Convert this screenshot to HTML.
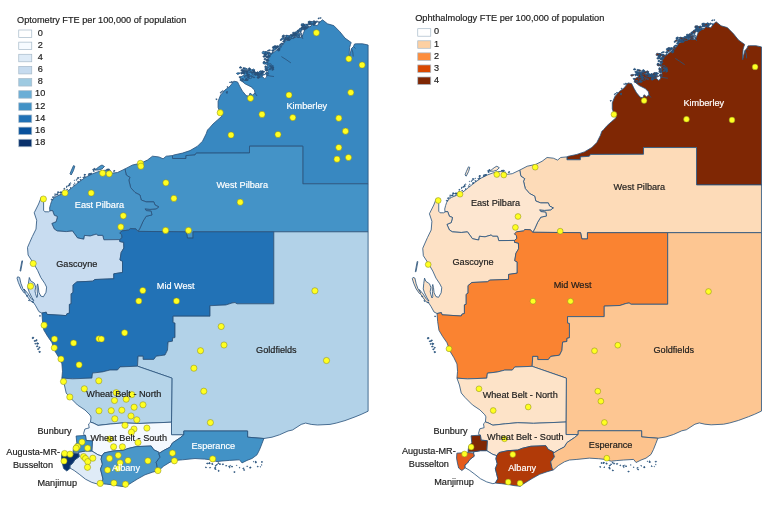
<!DOCTYPE html>
<html lang="en"><head><meta charset="utf-8"><title>Optometry and Ophthalmology FTE per 100,000 of population</title>
<style>
html,body{margin:0;padding:0;background:#fff}
text{stroke-width:0.18px;paint-order:stroke}
svg{display:block;font-family:"Liberation Sans",Arial,sans-serif;font-size:9.13px}
.reg polygon,.reg polyline{stroke:#28527c;stroke-width:0.82;stroke-linejoin:round}
.dots circle{fill:#ffff22;stroke:#86861a;stroke-width:0.5}
</style></head>
<body>
<svg width="768" height="506" viewBox="0 0 768 506">
<rect width="768" height="506" fill="#ffffff"/>
<g class="reg">
<polygon points="368.1,45.0 362.5,43.8 356.2,43.8 354.5,44.0 353.5,46.5 351.5,48.5 350.3,53.0 349.2,58.0 349.3,52.0 349.6,47.5 350.5,44.5 351.2,42.5 345.0,38.1 340.0,31.9 333.8,25.6 327.5,23.8 322.5,19.8 319.5,22.3 317.2,25.8 315.0,25.0 312.7,24.3 309.5,27.4 307.2,26.8 304.8,29.8 303.2,33.8 301.6,37.7 297.7,36.9 293.7,37.7 289.8,39.3 285.8,40.9 284.6,41.5 283.0,44.7 278.3,48.7 273.5,52.6 268.8,55.0 268.0,60.6 267.2,66.1 268.0,71.6 266.4,77.2 264.8,78.7 260.1,74.8 253.8,72.4 248.2,71.6 243.5,70.8 244.3,74.8 240.0,77.5 241.2,80.6 245.0,83.8 251.2,86.9 254.4,90.0 255.0,93.1 252.5,95.0 250.0,93.1 248.8,96.2 246.2,95.6 242.5,91.2 240.0,86.9 237.5,81.9 233.8,81.2 230.0,86.2 225.0,90.0 220.6,95.0 218.1,101.2 218.1,107.5 220.0,112.5 221.9,116.2 217.5,120.0 213.0,124.0 209.5,128.0 207.5,130.0 206.2,133.8 202.5,141.2 197.5,146.2 190.0,150.6 182.5,153.1 173.8,155.0 172.5,155.6 172.5,158.5 186.0,158.5 186.0,155.6 195.0,155.0 196.2,153.1 249.5,153.0 249.5,146.2 302.8,146.2 302.8,183.8 368.1,183.8" fill="#3888c1"/>
<polygon points="172.5,155.6 166.2,156.2 163.1,158.8 158.8,156.9 152.5,156.2 147.5,160.0 141.2,163.1 132.5,165.0 125.0,168.9 126.2,175.0 130.0,177.5 128.8,180.0 130.6,187.5 135.0,192.5 140.0,195.0 141.2,200.0 146.2,201.9 153.8,201.9 155.0,205.0 158.8,206.9 156.2,208.8 150.0,209.4 145.0,208.8 146.2,210.6 151.2,211.2 151.9,215.0 146.2,216.2 143.1,221.2 140.0,228.1 138.1,231.4 186.2,231.8 187.5,238.1 193.1,238.1 193.1,231.8 273.8,231.8 368.1,231.8 368.1,183.8 302.8,183.8 302.8,146.2 249.5,146.2 249.5,153.0 196.2,153.1 195.0,155.0 186.0,155.6 186.0,158.5 172.5,158.5 172.5,155.6" fill="#4493c7"/>
<polygon points="125.0,168.9 117.5,172.5 112.5,173.1 107.5,170.0 102.5,170.6 97.5,171.9 92.5,173.8 86.2,176.9 80.0,181.2 73.8,186.2 67.5,191.2 61.2,194.4 56.5,196.3 53.6,198.2 51.5,201.5 50.5,204.5 49.6,208.0 49.9,210.9 52.5,210.5 54.3,215.3 57.4,216.5 56.2,221.6 51.8,223.5 54.3,229.1 57.4,231.0 66.2,231.6 72.5,231.0 77.5,237.9 83.8,239.2 84.5,235.4 90.1,236.0 96.4,234.1 97.6,235.4 102.7,235.4 103.9,239.8 119.8,239.6 122.1,237.6 121.7,234.8 119.8,232.9 122.1,230.9 128.7,230.1 130.3,228.6 135.9,228.9 137.4,230.9 138.1,231.4 140.0,228.1 143.1,221.2 146.2,216.2 151.9,215.0 151.2,211.2 146.2,210.6 145.0,208.8 150.0,209.4 156.2,208.8 158.8,206.9 155.0,205.0 153.8,201.9 146.2,201.9 141.2,200.0 140.0,195.0 135.0,192.5 130.6,187.5 128.8,180.0 130.0,177.5 126.2,175.0 125.0,168.9" fill="#4895c8"/>
<polygon points="49.9,210.9 48.6,211.8 44.9,211.8 43.6,210.3 43.6,202.7 41.1,197.7 38.6,204.0 34.2,212.8 36.7,220.3 36.0,229.1 32.3,236.6 29.8,242.2 27.5,247.5 28.1,255.0 33.1,262.7 37.6,270.4 40.8,277.5 44.7,283.3 46.6,287.1 46.0,292.3 43.4,296.8 40.8,296.1 38.9,292.3 38.3,287.1 37.6,283.9 37.0,286.0 37.2,291.0 37.6,296.1 36.8,297.5 35.5,293.6 35.0,291.0 35.7,287.1 34.4,283.3 30.6,280.7 29.3,277.5 28.5,283.0 28.0,288.4 29.3,292.3 31.8,297.4 33.8,300.6 31.2,298.7 28.0,293.6 24.1,289.0 24.8,292.9 28.0,297.4 31.0,301.5 33.1,301.9 35.7,305.8 38.9,311.6 41.9,313.1 46.2,312.2 46.9,314.4 66.2,315.6 66.9,313.8 69.4,313.1 69.4,304.4 71.2,303.8 71.2,293.8 73.1,292.5 73.1,285.0 76.9,281.9 92.5,281.2 95.0,279.5 113.8,278.8 113.8,273.8 122.5,272.5 122.5,261.2 120.0,260.0 121.2,252.5 123.9,248.0 123.7,242.3 119.8,241.5 119.8,239.6 103.9,239.8 102.7,235.4 97.6,235.4 96.4,234.1 90.1,236.0 84.5,235.4 83.8,239.2 77.5,237.9 72.5,231.0 66.2,231.6 57.4,231.0 54.3,229.1 51.8,223.5 56.2,221.6 57.4,216.5 54.3,215.3 52.5,210.5 49.9,210.9" fill="#c8dcf0"/>
<polygon points="119.8,232.9 122.1,230.9 128.7,230.1 130.3,228.6 135.9,228.9 137.4,230.9 138.1,231.4 186.2,231.8 187.5,238.1 193.1,238.1 193.1,231.8 273.8,231.8 273.8,303.8 237.0,303.8 235.0,302.5 232.0,303.0 225.8,305.0 212.0,305.6 210.0,305.6 210.0,316.2 173.1,316.2 173.1,322.5 175.0,323.0 175.0,337.5 172.5,338.1 172.5,341.2 168.1,341.9 167.5,350.0 165.0,355.0 156.2,356.2 153.8,359.4 143.1,359.4 143.1,356.2 138.1,356.2 137.5,366.2 120.0,366.9 117.5,370.0 110.0,370.0 102.5,371.9 92.5,373.1 91.9,378.1 72.5,378.8 61.9,378.1 62.5,371.2 61.9,363.8 58.8,357.5 55.0,351.2 51.9,342.5 47.5,336.2 43.8,330.0 42.5,321.2 41.9,313.1 46.2,312.2 46.9,314.4 66.2,315.6 66.9,313.8 69.4,313.1 69.4,304.4 71.2,303.8 71.2,293.8 73.1,292.5 73.1,285.0 76.9,281.9 92.5,281.2 95.0,279.5 113.8,278.8 113.8,273.8 122.5,272.5 122.5,261.2 120.0,260.0 121.2,252.5 123.9,248.0 123.7,242.3 119.8,241.5 119.8,239.6 122.1,237.6 121.7,234.8 119.8,232.9" fill="#2272b6"/>
<polygon points="273.8,231.8 368.1,231.8 368.1,411.2 361.2,414.4 355.0,416.9 345.0,420.6 336.2,423.1 330.0,424.4 317.5,425.0 311.2,424.4 305.6,423.1 301.2,424.4 292.5,430.0 288.0,431.0 279.5,434.8 272.0,437.2 263.9,438.5 247.6,437.2 247.6,431.0 183.8,431.0 183.8,434.8 171.5,434.8 171.5,422.2 171.9,378.1 137.5,366.2 138.1,356.2 143.1,356.2 143.1,359.4 153.8,359.4 156.2,356.2 165.0,355.0 167.5,350.0 168.1,341.9 172.5,341.2 172.5,338.1 175.0,337.5 175.0,323.0 173.1,322.5 173.1,316.2 210.0,316.2 210.0,305.6 212.0,305.6 225.8,305.0 232.0,303.0 235.0,302.5 237.0,303.8 273.8,303.8 273.8,231.8" fill="#b2d2e8"/>
<polygon points="61.9,378.1 64.4,385.0 66.2,393.0 70.0,397.5 77.5,405.0 85.0,410.0 90.0,415.0 91.0,417.0 90.5,422.2 93.0,422.9 98.0,425.4 110.5,424.0 123.0,422.9 138.8,423.5 171.5,422.2 171.9,378.1 137.5,366.2 120.0,366.9 117.5,370.0 110.0,370.0 102.5,371.9 92.5,373.1 91.9,378.1 72.5,378.8 61.9,378.1" fill="#b5d4e9"/>
<polygon points="90.5,422.2 93.0,422.9 98.0,425.4 110.5,424.0 123.0,422.9 138.8,423.5 171.5,422.2 171.5,434.8 183.8,434.8 180.0,437.9 172.5,442.9 170.0,447.2 163.8,450.4 158.8,453.5 158.8,452.2 153.8,449.8 151.2,446.0 136.2,446.6 128.0,448.5 123.0,450.4 113.0,451.0 104.2,452.9 101.8,456.0 98.0,454.8 91.8,451.0 92.4,441.0 86.1,440.4 85.5,435.4 84.2,435.4 83.6,433.5 84.9,429.0 89.2,427.9 88.6,424.0 90.5,422.2" fill="#f4f9fe"/>
<polygon points="78.6,452.2 85.5,451.0 91.8,451.0 98.0,454.8 101.8,456.0 101.1,459.2 102.4,464.2 100.5,469.2 101.8,474.2 103.0,479.2 100.5,483.6 98.0,484.2 91.8,482.4 85.5,479.2 79.2,474.2 74.2,470.5 69.9,468.0 69.9,465.4 72.4,463.5 74.9,459.8 79.2,456.6 78.6,453.5" fill="#dfebf7"/>
<polygon points="101.8,456.0 104.2,452.9 113.0,451.0 123.0,450.4 128.0,448.5 136.2,446.6 151.2,446.0 153.8,449.8 158.8,452.2 158.8,453.5 160.0,457.2 156.2,462.2 157.5,468.5 158.8,470.4 152.5,472.2 145.0,474.8 137.5,479.0 133.0,481.8 128.0,484.9 125.5,486.8 119.2,486.1 113.0,484.9 106.8,484.2 100.5,483.6 103.0,479.2 101.8,474.2 100.5,469.2 102.4,464.2 101.1,459.2 101.8,456.0" fill="#4a97c9"/>
<polygon points="183.8,434.8 183.8,431.0 247.6,431.0 247.6,437.2 263.9,438.5 262.0,443.5 259.5,449.8 257.0,454.8 252.0,458.5 247.0,460.4 242.0,462.9 239.5,459.8 229.5,460.4 222.0,461.0 217.0,461.6 210.8,459.8 204.5,459.1 195.0,458.5 182.5,459.8 175.0,460.4 170.0,462.2 163.8,466.0 158.8,470.4 157.5,468.5 156.2,462.2 160.0,457.2 158.8,453.5 163.8,450.4 170.0,447.2 172.5,442.9 180.0,437.9 183.8,434.8" fill="#4292c6"/>
<polygon points="76.1,436.0 85.5,435.4 86.1,440.4 92.4,441.0 91.8,451.0 85.5,451.0 78.6,452.2 73.0,452.2 73.6,447.2 76.8,442.9" fill="#3f8fc5"/>
<polygon points="61.8,453.5 73.0,452.9 78.6,453.5 79.2,456.6 74.9,459.8 72.4,463.5 69.9,465.4 69.9,468.5 66.8,471.0 63.6,468.5 62.4,463.5 61.5,458.5" fill="#08306b"/>
<polygon points="17.7,276.8 19.6,277.5 20.9,283.3 22.8,288.4 25.4,292.3 24.1,292.9 20.9,288.4 18.4,282.6 17.0,278.1" fill="#c8dcf0"/>
<polygon points="21.9,260.8 22.6,260.9 20.7,271.1 20.0,271.0" fill="#c8dcf0"/>
<polygon points="70.0,173.8 71.5,170.0 73.5,165.6 74.8,166.2 73.5,170.5 71.2,175.0" fill="#4895c8"/>
<polygon points="95.0,170.0 98.0,167.5 100.0,166.0 102.0,165.0 104.5,166.5 102.0,169.0 98.5,170.0" fill="#4895c8"/>
<polygon points="226.0,92.0 227.5,91.5 227.0,93.5" fill="#28527c"/>
<polygon points="320.1,17.9 320.6,17.7 321.1,17.7 321.1,18.1 320.9,18.4 320.4,18.2" fill="#28527c"/>
<polygon points="318.9,18.8 318.0,18.7 318.1,18.2 318.7,17.9 319.5,17.9 319.2,18.4" fill="#28527c"/>
<polygon points="319.3,21.7 320.0,22.0 319.6,22.6 318.7,22.6 318.1,22.1 318.7,21.7" fill="#28527c"/>
<polygon points="316.4,22.4 315.8,21.8 316.3,21.2 317.3,20.9 318.0,21.6 317.3,22.1" fill="#28527c"/>
<polygon points="314.6,23.6 314.2,22.6 314.2,21.8 315.4,21.3 316.0,22.2 316.0,23.0" fill="#28527c"/>
<polygon points="315.1,22.7 315.7,23.4 314.7,24.0 313.5,23.8 313.3,23.0 314.0,22.2" fill="#28527c"/>
<polygon points="312.8,23.4 314.6,23.4 315.0,24.3 314.7,25.1 313.4,25.4 313.1,24.5" fill="#28527c"/>
<polygon points="313.4,23.9 313.8,24.1 313.8,24.4 313.2,24.7 312.9,24.3 312.8,23.9" fill="#28527c"/>
<polygon points="309.5,23.3 308.5,22.7 308.2,21.5 310.1,21.0 310.7,22.1 310.6,22.9" fill="#28527c"/>
<polygon points="310.5,24.5 309.6,24.3 309.7,23.6 310.7,23.1 312.0,23.5 311.7,24.5" fill="#28527c"/>
<polygon points="309.5,24.0 309.6,24.6 308.9,24.9 308.4,24.6 308.3,24.2 308.8,24.1" fill="#28527c"/>
<polygon points="310.3,26.7 309.7,26.6 309.5,26.3 309.7,26.0 310.2,26.0 310.6,26.3" fill="#28527c"/>
<polygon points="307.0,25.8 306.4,25.6 306.5,25.2 307.0,24.8 307.8,25.1 307.6,25.6" fill="#28527c"/>
<polygon points="307.8,27.5 307.3,26.9 307.4,26.5 308.0,25.8 308.8,26.4 308.5,27.0" fill="#28527c"/>
<polygon points="307.1,24.4 307.2,25.6 306.4,26.3 305.2,26.0 304.0,25.1 305.4,24.3" fill="#3888c1"/>
<polygon points="307.4,27.4 306.7,28.5 304.9,28.7 303.9,27.7 305.0,26.9 306.2,26.6" fill="#3888c1"/>
<polygon points="305.2,29.2 304.3,28.9 304.6,28.2 305.4,27.7 306.4,28.2 306.3,29.0" fill="#28527c"/>
<polygon points="304.4,30.1 303.5,30.0 303.2,29.3 303.9,29.0 304.8,29.1 305.1,29.7" fill="#28527c"/>
<polygon points="301.3,28.1 302.2,28.7 302.8,29.6 301.3,29.8 299.8,29.6 299.6,28.4" fill="#3888c1"/>
<polygon points="301.2,30.4 300.2,30.4 299.0,29.8 299.9,28.8 301.2,29.3 302.4,29.8" fill="#3888c1"/>
<polygon points="302.1,34.1 301.5,34.5 300.7,34.4 300.2,34.0 300.9,33.6 301.7,33.5" fill="#28527c"/>
<polygon points="301.5,36.7 300.9,36.3 300.7,35.8 301.4,35.6 302.4,35.6 302.1,36.3" fill="#28527c"/>
<polygon points="299.1,34.2 299.1,34.9 298.2,35.3 297.7,34.8 297.4,34.2 298.2,34.1" fill="#28527c"/>
<polygon points="298.7,36.0 299.5,36.3 299.8,37.0 299.0,37.5 297.8,37.3 298.1,36.6" fill="#28527c"/>
<polygon points="296.6,36.4 297.3,35.4 299.1,35.3 299.4,36.4 298.7,37.3 297.3,37.2" fill="#3888c1"/>
<polygon points="294.2,36.0 294.9,35.2 296.3,35.0 297.2,35.8 296.3,36.4 295.3,36.6" fill="#3888c1"/>
<polygon points="295.2,37.3 294.5,37.5 293.5,37.5 293.4,36.7 294.4,36.1 295.1,36.8" fill="#28527c"/>
<polygon points="293.6,37.4 293.8,38.6 292.0,38.5 291.0,37.8 291.1,36.6 293.0,36.4" fill="#3888c1"/>
<polygon points="290.9,37.6 289.9,37.6 290.1,37.0 290.3,36.5 291.2,36.6 291.2,37.1" fill="#28527c"/>
<polygon points="289.8,37.7 289.6,38.2 288.9,38.0 288.6,37.8 288.8,37.5 289.4,37.2" fill="#28527c"/>
<polygon points="289.2,37.5 289.8,38.2 289.8,39.4 288.0,39.3 286.9,38.4 288.1,37.7" fill="#3888c1"/>
<polygon points="287.2,38.9 287.2,39.4 286.5,39.4 285.8,39.3 286.2,38.9 286.7,38.5" fill="#28527c"/>
<polygon points="285.2,39.8 283.9,39.5 284.4,38.5 285.5,38.3 286.4,38.7 286.1,39.4" fill="#28527c"/>
<polygon points="284.4,41.2 283.8,40.5 283.9,39.7 285.0,39.8 285.8,40.1 285.3,40.7" fill="#28527c"/>
<polygon points="284.5,41.4 284.9,42.1 283.7,42.2 282.9,41.9 282.8,41.0 284.0,40.9" fill="#28527c"/>
<polygon points="281.3,39.3 281.8,39.9 281.2,40.4 280.3,40.4 280.1,39.9 280.4,39.6" fill="#28527c"/>
<polygon points="283.4,44.1 282.6,44.4 281.8,44.0 282.0,43.6 282.6,43.4 283.1,43.6" fill="#28527c"/>
<polygon points="283.0,43.5 282.4,44.1 281.6,44.1 280.7,43.9 281.3,43.3 282.0,43.2" fill="#28527c"/>
<polygon points="280.9,45.3 280.2,44.9 279.7,44.4 280.4,44.1 281.3,44.0 281.3,44.6" fill="#28527c"/>
<polygon points="278.9,45.8 279.9,45.1 281.2,45.2 281.8,46.1 280.7,46.6 279.6,46.5" fill="#3888c1"/>
<polygon points="277.3,46.2 277.6,46.6 277.3,47.1 276.5,47.1 276.5,46.6 276.6,46.3" fill="#28527c"/>
<polygon points="273.6,46.2 275.3,45.7 276.7,46.3 276.3,47.2 275.3,47.4 274.4,47.2" fill="#3888c1"/>
<polygon points="274.0,46.3 275.3,46.0 276.0,46.7 275.4,47.2 274.5,47.8 273.6,47.1" fill="#28527c"/>
<polygon points="274.1,48.4 274.5,48.6 274.6,48.9 274.2,49.3 273.8,48.9 273.5,48.5" fill="#28527c"/>
<polygon points="273.1,49.9 274.3,50.5 273.7,51.2 272.9,51.5 272.0,51.1 271.7,50.2" fill="#28527c"/>
<polygon points="272.5,53.1 271.9,52.8 272.0,52.3 272.6,52.3 273.1,52.5 273.1,52.9" fill="#28527c"/>
<polygon points="270.6,50.2 269.9,50.6 269.3,50.8 268.6,50.4 269.0,49.8 269.9,49.9" fill="#28527c"/>
<polygon points="267.6,50.6 268.1,50.2 269.0,50.4 268.6,50.9 268.1,51.4 267.4,51.0" fill="#28527c"/>
<polygon points="266.8,52.4 266.6,53.0 265.5,52.9 265.3,52.2 265.9,51.8 266.8,51.8" fill="#28527c"/>
<polygon points="268.7,56.2 270.1,56.8 269.0,57.7 267.3,57.8 267.1,56.7 267.7,56.0" fill="#3888c1"/>
<polygon points="266.2,56.9 266.4,56.5 266.9,56.3 267.9,56.4 267.5,57.0 266.8,57.6" fill="#28527c"/>
<polygon points="266.3,57.8 266.1,57.1 266.8,56.7 267.7,56.9 268.1,57.5 267.3,58.0" fill="#28527c"/>
<polygon points="266.2,60.3 266.7,59.3 268.0,59.2 268.6,59.8 269.1,60.8 267.6,60.6" fill="#3888c1"/>
<polygon points="268.4,60.1 268.2,61.0 266.9,60.9 265.9,60.4 266.5,59.6 267.6,59.6" fill="#28527c"/>
<polygon points="265.4,59.9 264.0,59.6 264.2,58.7 265.0,58.4 265.8,58.6 265.9,59.1" fill="#28527c"/>
<polygon points="266.1,62.0 267.0,61.6 267.8,62.0 267.8,62.5 267.2,62.9 266.5,62.6" fill="#28527c"/>
<polygon points="268.0,64.0 266.4,64.4 264.9,63.6 266.0,62.7 267.2,62.4 268.1,63.0" fill="#3888c1"/>
<polygon points="265.1,61.8 265.3,62.4 264.9,63.4 263.1,63.2 263.1,62.0 264.0,61.2" fill="#28527c"/>
<polygon points="265.8,62.4 265.7,63.5 264.9,64.1 263.9,64.0 263.1,63.3 263.9,62.4" fill="#3888c1"/>
<polygon points="264.9,66.5 265.3,65.8 266.2,66.3 266.9,67.0 265.8,67.4 264.9,67.1" fill="#28527c"/>
<polygon points="266.8,68.2 265.9,68.7 264.8,68.2 265.2,67.3 266.3,67.2 267.4,67.5" fill="#3888c1"/>
<polygon points="265.5,68.5 267.4,68.6 268.1,69.5 267.6,70.3 266.0,71.0 265.0,69.8" fill="#3888c1"/>
<polygon points="265.9,70.6 265.6,69.8 266.9,69.1 267.7,70.0 267.5,70.6 266.8,71.0" fill="#28527c"/>
<polygon points="266.9,72.0 267.9,72.5 268.7,73.5 267.1,73.8 265.5,73.6 266.0,72.6" fill="#3888c1"/>
<polygon points="265.3,74.0 265.8,73.2 267.2,73.1 268.2,73.9 267.6,75.2 265.9,74.6" fill="#3888c1"/>
<polygon points="264.5,72.0 264.2,72.3 263.3,72.3 263.2,71.7 263.9,71.3 264.8,71.4" fill="#28527c"/>
<polygon points="264.8,74.6 263.7,75.1 262.5,75.0 262.2,74.2 263.0,73.7 263.9,73.9" fill="#3888c1"/>
<polygon points="262.1,75.1 262.0,75.5 261.4,75.8 260.8,75.3 261.2,74.9 261.8,74.9" fill="#28527c"/>
<polygon points="260.2,75.1 260.4,74.5 260.6,74.1 261.5,74.1 261.7,74.7 261.0,74.9" fill="#28527c"/>
<polygon points="260.1,73.3 260.8,73.8 260.8,74.3 260.2,74.8 259.4,74.4 259.6,73.8" fill="#28527c"/>
<polygon points="261.1,74.9 261.6,75.2 261.7,75.7 261.1,75.7 260.7,75.6 260.6,75.2" fill="#28527c"/>
<polygon points="258.5,72.9 258.9,73.7 257.7,74.1 256.6,73.6 256.7,72.7 257.9,72.4" fill="#28527c"/>
<polygon points="257.8,73.3 256.9,74.1 255.9,73.3 256.1,72.7 256.8,72.4 258.1,72.4" fill="#28527c"/>
<polygon points="253.3,71.1 252.4,70.6 252.1,69.7 253.6,69.0 254.8,69.9 254.4,70.8" fill="#3888c1"/>
<polygon points="254.4,70.1 254.5,71.0 254.2,72.0 252.9,71.6 252.1,70.9 253.0,70.2" fill="#28527c"/>
<polygon points="254.7,72.7 253.7,72.6 253.4,72.1 253.6,71.7 254.6,71.4 254.9,72.0" fill="#28527c"/>
<polygon points="252.5,71.0 251.0,71.7 249.3,70.9 249.5,69.5 251.3,69.7 252.5,70.0" fill="#3888c1"/>
<polygon points="250.5,68.6 250.8,69.5 249.5,69.7 248.7,69.2 248.4,68.3 249.7,67.8" fill="#28527c"/>
<polygon points="249.0,70.5 248.7,70.1 249.1,69.8 249.9,69.8 250.2,70.4 249.5,70.6" fill="#28527c"/>
<polygon points="248.1,70.2 247.4,70.0 247.8,69.5 248.5,69.6 248.8,69.8 248.7,70.2" fill="#28527c"/>
<polygon points="248.0,70.9 248.7,71.0 248.9,71.4 248.6,71.9 247.9,71.6 247.5,71.2" fill="#28527c"/>
<polygon points="244.4,69.4 243.4,68.5 244.8,67.9 245.9,68.2 247.4,69.0 245.8,69.7" fill="#3888c1"/>
<polygon points="244.3,68.8 243.5,69.1 242.8,68.5 243.3,67.6 244.3,68.0 245.2,68.4" fill="#28527c"/>
<polygon points="243.7,70.6 244.6,70.3 245.4,70.2 245.9,70.7 245.3,71.4 244.5,71.0" fill="#28527c"/>
<polygon points="242.0,67.8 240.8,68.1 239.6,68.1 239.5,67.2 240.4,66.6 241.2,67.1" fill="#28527c"/>
<polygon points="243.2,69.4 243.8,70.0 243.3,70.8 241.9,70.9 241.3,70.1 242.1,69.5" fill="#28527c"/>
<polygon points="240.7,70.0 241.3,69.9 242.0,69.8 241.8,70.3 241.5,70.6 240.9,70.4" fill="#28527c"/>
<polygon points="242.0,73.2 242.2,72.4 243.2,72.0 243.8,72.6 244.2,73.3 243.1,73.6" fill="#28527c"/>
<polygon points="241.8,73.5 240.9,73.3 240.6,72.9 240.9,72.3 241.8,72.5 242.4,73.0" fill="#28527c"/>
<polygon points="241.5,73.1 242.1,73.4 242.0,73.8 241.6,74.1 241.1,73.9 240.8,73.4" fill="#28527c"/>
<polygon points="238.6,72.7 240.1,73.1 239.0,74.0 237.5,74.4 236.4,73.4 237.6,72.8" fill="#3888c1"/>
<polygon points="239.8,76.7 240.9,76.7 240.4,77.4 239.7,77.9 239.2,77.3 239.0,76.8" fill="#28527c"/>
<polygon points="260.6,72.6 261.1,72.3 261.7,72.3 262.0,72.6 262.0,73.4 260.9,73.2" fill="#28527c"/>
<polygon points="262.0,73.0 260.6,73.4 259.7,72.7 259.5,71.6 261.2,71.4 262.3,72.1" fill="#3888c1"/>
<polygon points="259.6,71.2 261.2,70.7 261.9,71.8 262.2,73.1 260.2,73.1 259.3,72.2" fill="#3888c1"/>
<polygon points="258.3,73.8 259.1,73.8 258.9,74.3 258.3,74.7 257.4,74.5 257.5,73.9" fill="#28527c"/>
<polygon points="256.7,73.4 256.5,73.7 255.9,73.6 255.7,73.2 256.0,72.8 256.6,73.1" fill="#28527c"/>
<polygon points="248.1,75.5 247.8,75.7 247.3,75.8 247.0,75.5 247.2,75.1 247.9,75.1" fill="#28527c"/>
<polygon points="248.1,76.0 246.8,75.9 246.3,75.4 246.6,74.9 247.5,74.5 248.5,75.1" fill="#28527c"/>
<polygon points="259.6,73.9 259.1,74.4 258.2,74.3 257.7,73.8 258.3,73.4 259.3,73.2" fill="#28527c"/>
<polygon points="259.2,73.2 258.0,73.8 256.8,73.5 256.7,72.7 257.2,71.7 258.3,72.4" fill="#28527c"/>
<polygon points="254.3,77.9 253.5,77.7 253.2,77.2 253.7,76.7 254.4,77.0 254.7,77.4" fill="#28527c"/>
<polygon points="249.4,70.4 249.9,71.4 250.4,72.5 248.6,72.8 247.6,71.9 247.7,70.8" fill="#3888c1"/>
<polygon points="252.1,73.1 251.5,73.0 251.2,72.5 252.0,72.2 252.8,72.4 252.8,73.0" fill="#28527c"/>
<polygon points="248.6,74.1 249.1,74.7 249.2,75.4 248.0,75.8 247.5,75.0 247.3,74.2" fill="#28527c"/>
<polygon points="243.3,72.2 244.2,72.6 244.0,73.2 243.4,73.7 242.7,73.2 242.7,72.8" fill="#28527c"/>
<polygon points="260.2,74.3 261.8,74.6 262.8,75.3 261.9,76.2 260.3,76.3 259.9,75.3" fill="#3888c1"/>
<polygon points="257.7,75.6 257.0,75.2 256.3,74.7 257.3,74.5 257.9,74.7 258.1,75.1" fill="#28527c"/>
<polygon points="262.1,73.6 261.9,74.1 261.0,73.9 260.7,73.4 261.3,72.9 261.9,73.2" fill="#28527c"/>
<polygon points="255.6,72.5 255.7,73.6 255.9,74.7 254.0,74.8 252.9,73.7 254.2,73.1" fill="#3888c1"/>
<polygon points="247.6,71.6 247.8,72.1 247.5,72.5 246.7,72.4 246.6,72.0 246.9,71.7" fill="#28527c"/>
<polygon points="244.6,76.6 244.4,76.2 244.6,75.8 245.2,75.7 245.9,76.1 245.4,76.6" fill="#28527c"/>
<polygon points="250.1,76.8 250.1,77.5 249.8,78.1 248.8,78.1 248.0,77.4 249.0,76.9" fill="#28527c"/>
<polygon points="257.5,74.4 258.1,74.9 257.3,75.1 256.8,75.0 256.5,74.7 256.7,74.1" fill="#28527c"/>
<polygon points="261.2,71.4 262.1,70.9 263.1,70.7 263.5,71.3 263.3,72.1 262.2,71.9" fill="#28527c"/>
<polygon points="261.6,72.6 262.3,72.8 262.8,73.2 262.1,73.5 261.2,73.6 260.9,73.0" fill="#28527c"/>
<polygon points="258.0,75.7 257.6,75.0 258.7,74.9 259.8,74.8 259.3,75.5 258.8,75.8" fill="#28527c"/>
<polygon points="247.2,77.8 247.4,76.9 248.0,76.3 249.1,76.5 249.6,77.3 248.6,78.0" fill="#28527c"/>
<polygon points="256.6,74.2 255.5,74.2 254.8,73.6 255.5,73.1 256.3,73.0 257.1,73.5" fill="#28527c"/>
<polygon points="255.2,71.7 255.4,72.3 254.8,72.7 253.6,72.7 253.3,71.8 254.4,71.6" fill="#28527c"/>
<polygon points="245.4,72.8 245.8,72.4 246.6,72.5 247.4,73.0 246.5,73.6 245.7,73.2" fill="#28527c"/>
<polygon points="263.5,71.9 263.0,72.6 261.9,72.5 261.5,72.0 261.6,71.3 262.5,71.5" fill="#28527c"/>
<polygon points="246.5,74.1 246.4,73.6 247.1,73.3 247.7,73.5 247.7,74.0 247.2,74.1" fill="#28527c"/>
<polygon points="256.2,73.4 256.4,74.3 255.2,75.0 254.0,74.4 254.1,73.6 255.0,72.8" fill="#28527c"/>
<polygon points="261.5,75.4 262.1,76.4 261.1,77.1 259.9,76.9 259.2,76.1 260.2,75.7" fill="#3888c1"/>
<polygon points="250.7,75.8 251.7,75.5 252.6,76.1 252.4,77.0 251.0,77.1 249.9,76.5" fill="#3888c1"/>
<polygon points="261.8,71.7 262.8,72.2 263.0,73.2 261.5,73.0 260.4,72.8 260.9,72.1" fill="#28527c"/>
<polygon points="259.6,77.8 258.5,78.1 257.4,77.7 257.7,76.9 258.8,76.5 260.0,76.9" fill="#28527c"/>
<polygon points="253.9,75.1 252.4,74.6 251.6,73.6 253.2,73.2 255.0,72.9 254.8,74.2" fill="#3888c1"/>
<polygon points="245.1,73.1 244.5,73.6 243.5,73.7 243.2,73.0 243.8,72.5 244.6,72.6" fill="#28527c"/>
<polygon points="258.1,78.3 257.0,77.8 257.0,77.1 257.7,76.8 258.9,76.7 259.2,77.6" fill="#28527c"/>
<polygon points="255.9,75.4 254.9,74.7 254.5,74.0 255.5,73.3 256.8,73.7 256.8,74.6" fill="#28527c"/>
<polygon points="249.2,74.4 249.8,74.8 249.2,75.2 248.5,75.2 248.3,74.8 248.5,74.4" fill="#28527c"/>
<polygon points="246.5,72.0 245.6,71.6 245.7,70.7 247.0,70.5 248.1,71.0 247.9,72.0" fill="#28527c"/>
<polygon points="252.0,77.7 250.6,78.6 248.8,78.0 249.3,77.0 249.9,76.0 251.5,76.5" fill="#3888c1"/>
<polygon points="242.6,70.7 243.8,70.7 244.4,71.3 244.0,72.1 242.5,72.5 241.9,71.4" fill="#28527c"/>
<polygon points="247.0,78.2 245.3,78.0 244.3,77.1 245.3,76.1 247.0,76.0 247.8,77.1" fill="#3888c1"/>
<polygon points="258.2,72.4 259.4,71.8 260.9,71.7 261.1,72.7 260.1,73.3 259.1,73.1" fill="#3888c1"/>
<polygon points="282.6,38.0 282.7,37.6 283.3,37.5 283.8,37.9 283.7,38.4 283.0,38.2" fill="#28527c"/>
<polygon points="288.0,37.0 289.3,37.2 289.8,37.9 289.6,38.8 288.3,38.3 287.4,37.9" fill="#28527c"/>
<polygon points="286.4,35.1 287.7,35.5 288.8,36.2 287.6,36.9 286.4,36.8 285.5,36.0" fill="#3888c1"/>
<polygon points="281.4,39.8 281.2,38.8 281.7,38.1 282.9,38.1 283.8,38.9 282.7,39.4" fill="#3888c1"/>
<polygon points="285.9,37.1 287.0,37.6 286.1,38.3 284.9,38.4 284.5,37.7 284.8,37.0" fill="#28527c"/>
<polygon points="289.2,39.3 288.6,38.6 289.0,37.7 290.6,37.7 291.5,38.6 290.3,39.1" fill="#3888c1"/>
<polygon points="288.7,39.7 287.9,40.0 287.1,39.9 286.3,39.2 287.5,38.7 288.8,38.9" fill="#28527c"/>
<polygon points="287.3,39.0 288.6,38.7 289.6,39.4 289.4,40.3 288.1,40.3 287.0,39.9" fill="#28527c"/>
<polygon points="285.9,39.3 285.2,39.5 284.7,39.0 285.3,38.5 286.0,38.7 286.6,39.1" fill="#28527c"/>
<polygon points="288.0,38.8 287.6,38.3 287.7,37.8 288.6,37.6 289.5,38.1 288.7,38.5" fill="#28527c"/>
<polygon points="286.8,35.7 287.5,36.1 287.0,36.5 286.4,36.4 285.9,36.2 286.0,35.7" fill="#28527c"/>
<polygon points="288.9,40.2 288.4,39.5 289.5,39.3 290.2,39.6 290.1,40.1 289.5,40.4" fill="#28527c"/>
<polygon points="289.2,37.2 287.4,37.2 286.6,36.8 285.9,35.8 287.5,35.6 289.1,35.9" fill="#3888c1"/>
<polygon points="283.1,35.0 284.7,35.4 284.4,36.4 283.9,37.2 282.3,37.0 282.2,35.9" fill="#28527c"/>
<polygon points="269.8,52.9 270.7,53.1 271.7,53.9 270.4,54.8 269.2,54.0 268.7,53.2" fill="#3888c1"/>
<polygon points="267.6,53.2 267.8,52.4 269.3,52.2 270.0,53.1 269.6,54.1 268.2,53.8" fill="#28527c"/>
<polygon points="268.3,53.4 269.4,53.2 270.6,53.7 270.3,54.8 268.6,55.0 267.8,54.2" fill="#3888c1"/>
<polygon points="265.0,51.4 266.5,52.1 267.2,53.0 266.2,54.2 264.2,53.7 263.9,52.5" fill="#3888c1"/>
<polygon points="264.4,55.0 264.1,53.9 265.2,52.9 267.0,53.3 266.9,54.4 265.9,54.8" fill="#3888c1"/>
<polygon points="266.0,53.2 266.1,54.1 266.3,55.0 264.7,55.1 263.8,54.3 264.6,53.5" fill="#28527c"/>
<polygon points="264.7,54.7 266.2,55.2 266.4,56.0 266.0,56.8 264.4,56.9 264.3,55.8" fill="#28527c"/>
<polygon points="268.0,55.8 268.9,55.7 269.4,56.1 269.3,56.5 268.6,56.9 267.8,56.5" fill="#28527c"/>
<polygon points="266.9,52.1 268.1,52.5 268.2,53.6 266.5,54.1 265.4,53.2 265.6,52.3" fill="#3888c1"/>
<polygon points="268.0,53.8 267.2,53.7 266.8,53.2 267.3,52.8 268.1,52.8 268.2,53.3" fill="#28527c"/>
<polygon points="264.7,57.0 263.6,57.3 263.1,56.7 263.0,56.0 263.9,55.9 264.8,56.2" fill="#28527c"/>
<polygon points="264.7,51.8 265.3,52.9 264.1,53.5 262.3,53.6 262.2,52.4 263.0,51.2" fill="#3888c1"/>
<polygon points="268.8,56.5 267.8,56.2 267.9,55.4 268.9,55.1 269.8,55.4 270.3,56.4" fill="#28527c"/>
<polygon points="270.5,54.0 271.1,54.9 269.7,55.3 268.7,54.7 267.7,53.7 269.5,53.5" fill="#3888c1"/>
<polygon points="304.1,26.3 305.6,26.2 306.0,27.1 305.9,28.4 303.7,28.4 303.6,27.1" fill="#28527c"/>
<polygon points="303.3,24.9 303.3,25.8 302.2,25.8 301.2,25.9 301.2,25.1 302.1,24.7" fill="#28527c"/>
<polygon points="307.0,23.8 307.7,24.3 307.5,24.8 306.9,25.1 306.1,24.8 306.5,24.4" fill="#28527c"/>
<polygon points="303.1,25.5 303.3,25.1 303.8,25.1 304.5,25.4 303.9,25.7 303.3,26.0" fill="#28527c"/>
<polygon points="303.4,25.9 301.5,25.3 301.1,24.0 302.8,23.7 304.1,23.8 304.0,24.7" fill="#3888c1"/>
<polygon points="305.6,28.2 305.5,27.3 306.9,27.2 308.0,27.7 307.3,28.4 306.4,28.7" fill="#28527c"/>
<polygon points="303.2,28.3 301.9,28.0 301.2,27.5 301.8,27.0 302.6,26.8 303.8,27.3" fill="#28527c"/>
<polygon points="303.1,26.0 302.9,25.1 302.8,24.2 304.0,24.6 305.1,24.9 304.4,25.7" fill="#28527c"/>
<polygon points="303.0,26.9 302.3,26.7 302.0,25.9 303.1,25.5 304.1,26.0 303.6,26.6" fill="#28527c"/>
<polygon points="303.4,27.9 304.2,27.8 303.8,28.3 303.6,28.8 303.0,28.5 303.0,28.1" fill="#28527c"/>
<polygon points="302.4,28.6 301.1,28.8 301.1,27.9 301.5,27.2 302.5,27.5 302.9,28.0" fill="#28527c"/>
<polygon points="306.3,27.6 305.9,28.0 305.2,27.7 305.3,27.2 305.8,27.0 306.6,27.1" fill="#28527c"/>
<polygon points="297.5,35.1 296.3,35.3 296.2,34.4 296.8,33.6 297.8,34.2 298.7,34.8" fill="#28527c"/>
<polygon points="294.1,34.7 293.9,33.6 295.7,33.8 296.9,34.6 295.7,35.4 294.5,35.4" fill="#3888c1"/>
<polygon points="297.4,32.8 297.5,32.3 297.8,31.8 298.5,32.0 298.8,32.5 298.1,32.7" fill="#28527c"/>
<polygon points="296.5,35.7 295.9,34.7 296.3,33.6 297.7,34.0 299.2,34.5 298.4,35.7" fill="#3888c1"/>
<polygon points="295.3,33.0 295.5,32.0 296.6,32.6 296.8,33.2 296.2,33.6 295.3,33.5" fill="#28527c"/>
<polygon points="297.7,30.3 298.2,30.4 298.7,30.8 298.1,31.1 297.4,31.0 297.1,30.5" fill="#28527c"/>
<polygon points="294.5,35.0 293.9,35.7 292.6,35.5 292.6,34.6 293.4,34.2 294.5,34.3" fill="#28527c"/>
<polygon points="294.8,34.3 293.1,34.6 292.7,33.5 292.7,32.4 294.6,32.2 295.2,33.3" fill="#28527c"/>
<polygon points="294.3,35.3 294.2,34.3 295.4,34.0 296.2,34.3 296.4,35.0 295.7,35.4" fill="#28527c"/>
<polygon points="299.7,33.3 299.9,34.4 299.8,35.4 298.1,35.8 296.8,34.7 298.2,33.9" fill="#3888c1"/>
<polygon points="294.9,33.6 295.2,33.1 296.2,33.2 296.1,33.7 295.8,34.1 294.6,34.4" fill="#28527c"/>
<polygon points="298.3,34.1 299.3,35.0 298.2,35.6 297.2,36.1 296.6,35.3 296.8,34.4" fill="#3888c1"/>
<polygon points="273.3,48.1 274.6,47.7 275.6,48.4 275.7,49.7 273.9,49.6 272.9,49.0" fill="#3888c1"/>
<polygon points="278.4,46.4 277.9,47.1 276.9,47.4 276.0,46.8 276.5,46.2 277.4,46.0" fill="#28527c"/>
<polygon points="272.9,48.0 272.4,47.6 272.3,47.0 273.4,46.6 274.1,47.3 273.8,48.0" fill="#28527c"/>
<polygon points="275.9,47.2 276.2,46.3 277.6,46.2 278.3,46.8 277.9,47.5 276.9,47.7" fill="#28527c"/>
<polygon points="277.2,48.0 276.8,48.9 275.6,48.5 274.8,47.9 275.6,47.2 276.7,47.4" fill="#28527c"/>
<polygon points="280.4,48.0 279.1,48.6 278.6,47.5 279.4,47.0 280.5,46.7 281.2,47.4" fill="#3888c1"/>
<polygon points="278.9,46.4 278.3,46.8 277.7,47.0 277.2,46.7 277.2,46.1 278.1,45.9" fill="#28527c"/>
<polygon points="278.7,49.2 279.9,49.6 279.8,50.4 278.9,51.1 277.7,50.6 277.4,49.7" fill="#28527c"/>
<polygon points="273.1,49.9 273.6,50.2 273.7,50.7 273.0,50.8 272.5,50.5 272.4,50.0" fill="#28527c"/>
<polygon points="278.1,49.2 278.1,48.5 279.2,48.5 279.9,48.9 279.8,49.5 278.8,49.6" fill="#28527c"/>
<polygon points="309.5,23.4 310.4,22.7 311.5,22.6 312.0,23.4 311.7,24.3 310.2,24.3" fill="#28527c"/>
<polygon points="310.2,23.1 310.8,23.8 309.9,24.2 309.0,24.3 308.3,23.7 309.3,23.4" fill="#28527c"/>
<polygon points="310.5,22.2 310.3,23.1 309.3,23.8 308.3,23.1 308.3,22.3 309.3,21.8" fill="#28527c"/>
<polygon points="310.4,23.0 310.0,22.0 310.8,21.3 311.8,21.6 312.4,22.2 311.8,22.8" fill="#28527c"/>
<polygon points="313.8,22.5 313.3,23.4 311.9,23.8 310.3,23.0 311.5,22.1 312.8,21.7" fill="#3888c1"/>
<polygon points="315.1,21.4 314.5,22.0 313.7,21.9 312.7,21.6 313.2,20.9 314.3,20.8" fill="#28527c"/>
<polygon points="273.4,69.8 272.5,70.0 271.9,69.4 272.5,68.9 273.3,68.9 274.1,69.3" fill="#28527c"/>
<polygon points="270.7,65.6 271.9,65.2 273.4,65.9 272.3,66.8 270.8,67.3 270.5,66.2" fill="#3888c1"/>
<polygon points="269.8,68.5 270.8,68.3 271.5,69.1 270.7,69.6 269.5,69.8 269.0,69.0" fill="#28527c"/>
<polygon points="273.5,67.8 272.7,68.3 272.3,67.6 272.5,67.1 273.2,66.9 274.0,67.2" fill="#28527c"/>
<polygon points="273.1,67.9 272.5,68.9 271.3,68.2 270.7,67.2 272.1,66.8 273.1,67.2" fill="#28527c"/>
<polygon points="268.9,64.1 270.1,63.6 271.3,64.1 270.9,64.9 270.1,66.0 268.7,65.2" fill="#3888c1"/>
<polygon points="246.8,80.3 245.3,80.3 245.4,79.2 246.8,79.0 248.2,79.2 248.1,80.3" fill="#3888c1"/>
<polygon points="240.7,80.5 242.2,79.7 243.5,79.5 244.7,80.4 243.5,81.1 242.2,81.2" fill="#3888c1"/>
<polygon points="246.3,80.6 245.2,80.4 245.3,79.6 246.2,78.6 247.2,79.5 247.6,80.4" fill="#28527c"/>
<polygon points="241.1,80.4 241.0,79.9 241.6,79.3 242.4,79.8 242.4,80.4 241.8,80.7" fill="#28527c"/>
<polygon points="242.4,78.6 242.9,78.7 243.5,78.9 242.9,79.2 242.4,79.3 241.9,79.0" fill="#28527c"/>
<polygon points="242.1,79.1 243.0,79.6 242.9,80.7 241.3,80.6 239.8,80.0 241.0,79.2" fill="#3888c1"/>
<polygon points="292.2,35.6 292.1,35.1 293.0,35.1 293.9,35.3 293.5,35.9 292.6,36.0" fill="#28527c"/>
<polygon points="290.4,35.6 290.8,36.1 290.2,36.5 289.5,36.3 289.0,35.8 289.8,35.4" fill="#28527c"/>
<polygon points="291.1,36.0 291.0,35.6 291.4,35.0 292.2,35.4 292.6,36.0 291.7,36.2" fill="#28527c"/>
<polygon points="291.0,35.4 290.3,35.1 290.6,34.5 291.5,34.4 292.5,34.7 291.9,35.4" fill="#28527c"/>
<polygon points="291.9,36.3 291.6,37.3 290.9,37.9 290.0,37.5 289.1,36.8 290.3,36.1" fill="#3888c1"/>
<polygon points="298.1,30.0 299.5,29.8 299.5,30.8 298.9,31.6 297.8,31.1 297.5,30.5" fill="#28527c"/>
<polygon points="301.5,32.1 300.9,32.6 299.9,32.4 299.6,31.7 300.3,31.1 301.2,31.5" fill="#28527c"/>
<polygon points="298.7,31.1 299.2,31.6 298.5,31.9 297.8,32.0 297.3,31.5 297.9,31.1" fill="#28527c"/>
<polygon points="296.8,32.9 295.3,32.7 295.9,31.6 297.2,31.7 298.1,32.1 297.7,32.8" fill="#3888c1"/>
<polygon points="300.2,29.1 301.7,29.2 301.4,30.3 300.2,31.1 298.5,30.5 299.1,29.4" fill="#3888c1"/>
<polygon points="231.4,81.6 232.4,81.7 232.7,82.3 232.1,82.7 231.4,82.5 230.8,82.1" fill="#28527c"/>
<polygon points="230.1,82.2 230.5,82.3 230.5,82.6 230.0,82.6 229.6,82.5 229.5,82.2" fill="#28527c"/>
<polygon points="227.7,87.4 227.2,87.2 226.9,86.9 227.3,86.6 227.8,86.8 228.0,87.1" fill="#28527c"/>
<polygon points="223.2,90.9 223.5,91.2 223.0,91.3 222.4,91.3 222.4,90.9 222.8,90.6" fill="#28527c"/>
<polygon points="221.5,91.4 221.8,91.8 221.9,92.1 221.4,92.3 221.0,92.1 221.1,91.8" fill="#28527c"/>
<polygon points="220.9,92.9 220.4,93.1 220.0,92.8 220.1,92.5 220.5,92.4 220.8,92.6" fill="#28527c"/>
<polygon points="216.9,99.5 216.3,99.6 215.9,99.3 215.9,98.9 216.4,98.9 217.2,99.0" fill="#28527c"/>
<polygon points="94.4,169.2 94.0,169.0 94.0,168.7 94.4,168.3 95.2,168.5 94.9,169.1" fill="#28527c"/>
<polygon points="94.2,170.3 93.1,170.3 92.6,169.6 93.3,169.2 94.1,169.2 94.8,169.6" fill="#28527c"/>
<polygon points="94.1,170.8 94.2,171.1 94.2,171.4 93.6,171.4 93.2,171.1 93.5,170.7" fill="#28527c"/>
<polygon points="91.2,173.3 91.5,173.0 91.8,173.2 91.9,173.5 91.5,173.8 91.2,173.5" fill="#28527c"/>
<polygon points="91.4,173.8 91.0,174.4 90.0,174.4 89.8,173.8 90.2,173.4 90.9,173.3" fill="#28527c"/>
<polygon points="88.8,173.6 89.6,173.5 89.6,174.0 89.5,174.3 88.9,174.3 88.6,174.0" fill="#28527c"/>
<polygon points="88.1,175.0 88.3,174.6 88.9,174.5 89.5,174.8 89.3,175.2 88.6,175.3" fill="#28527c"/>
<polygon points="84.6,174.6 85.1,174.5 85.6,174.6 85.5,175.0 85.2,175.1 84.6,175.1" fill="#28527c"/>
<polygon points="85.0,175.1 84.5,175.2 83.9,175.1 84.0,174.7 84.5,174.4 85.0,174.7" fill="#28527c"/>
<polygon points="84.2,176.8 84.5,176.2 85.3,176.6 85.3,177.0 84.9,177.5 84.2,177.2" fill="#28527c"/>
<polygon points="83.9,178.0 83.3,178.2 83.0,177.8 82.9,177.4 83.5,177.4 84.0,177.6" fill="#28527c"/>
<polygon points="80.6,177.3 80.3,177.5 80.0,177.6 79.8,177.4 80.0,177.2 80.4,177.0" fill="#28527c"/>
<polygon points="81.2,180.0 80.8,180.4 80.3,180.1 79.8,179.7 80.5,179.5 81.2,179.6" fill="#28527c"/>
<polygon points="78.7,177.5 79.1,178.0 78.5,178.4 77.9,178.1 77.4,177.7 78.0,177.4" fill="#28527c"/>
<polygon points="77.1,179.1 76.9,178.8 77.3,178.6 77.6,178.8 77.8,179.0 77.5,179.1" fill="#28527c"/>
<polygon points="77.8,181.4 78.5,181.4 79.0,181.8 78.7,182.5 77.6,182.3 77.5,181.8" fill="#28527c"/>
<polygon points="76.0,179.8 76.3,179.6 76.6,179.7 76.6,180.0 76.5,180.3 76.0,180.1" fill="#28527c"/>
<polygon points="74.4,180.4 74.2,180.3 74.3,180.0 74.7,180.1 74.7,180.3 74.6,180.4" fill="#28527c"/>
<polygon points="74.9,183.0 75.2,183.2 74.9,183.5 74.6,183.3 74.4,183.2 74.6,183.0" fill="#28527c"/>
<polygon points="73.4,185.1 73.7,184.7 74.1,184.7 74.3,184.9 74.4,185.3 73.9,185.3" fill="#28527c"/>
<polygon points="71.0,183.2 70.6,183.2 70.5,183.0 70.5,182.8 70.8,182.8 71.1,183.0" fill="#28527c"/>
<polygon points="69.2,183.8 69.5,183.6 69.9,183.7 69.9,184.0 69.6,184.2 69.3,184.0" fill="#28527c"/>
<polygon points="69.0,184.5 70.0,184.4 70.4,185.1 69.7,185.6 68.8,185.6 68.5,185.0" fill="#28527c"/>
<polygon points="70.4,188.3 70.2,187.9 70.4,187.6 70.9,187.6 71.1,187.8 71.0,188.1" fill="#28527c"/>
<polygon points="67.8,185.9 68.0,185.6 68.5,185.5 68.7,185.7 68.8,186.0 68.3,186.1" fill="#28527c"/>
<polygon points="67.4,186.2 67.2,186.5 66.9,186.7 66.5,186.6 66.3,186.2 67.0,186.1" fill="#28527c"/>
<polygon points="66.0,187.3 66.3,187.1 66.6,187.1 66.7,187.3 66.7,187.4 66.4,187.5" fill="#28527c"/>
<polygon points="66.8,189.3 67.3,189.2 67.5,189.5 67.6,189.8 67.1,190.0 66.8,189.7" fill="#28527c"/>
<polygon points="64.7,188.9 64.2,189.0 63.7,188.8 64.0,188.4 64.6,188.2 64.8,188.6" fill="#28527c"/>
<polygon points="63.9,189.8 64.4,189.9 64.7,190.2 64.3,190.3 63.8,190.5 63.7,190.1" fill="#28527c"/>
<polygon points="65.0,191.8 64.4,192.2 63.7,192.2 63.8,191.8 63.9,191.4 64.6,191.4" fill="#28527c"/>
<polygon points="63.8,192.1 64.3,192.1 64.1,192.4 63.8,192.5 63.4,192.4 63.5,192.1" fill="#28527c"/>
<polygon points="61.9,193.3 61.1,192.9 61.2,192.3 62.0,192.2 62.8,192.4 62.8,193.0" fill="#28527c"/>
<polygon points="61.2,192.7 60.5,193.0 59.8,192.6 60.1,191.9 61.1,191.9 62.0,192.2" fill="#28527c"/>
<polygon points="60.3,194.2 60.0,194.4 59.8,194.2 60.0,194.0 60.3,193.9 60.4,194.1" fill="#28527c"/>
<polygon points="58.6,192.8 57.8,193.1 57.6,192.5 57.7,191.7 58.8,191.9 59.3,192.4" fill="#28527c"/>
<polygon points="57.8,193.9 58.1,194.3 57.6,194.3 57.1,194.3 57.1,193.9 57.5,193.6" fill="#28527c"/>
<polygon points="57.9,194.3 57.5,194.8 56.8,195.0 56.3,194.7 56.3,194.2 57.1,194.1" fill="#28527c"/>
<polygon points="55.6,194.2 55.5,194.5 55.0,194.4 54.6,194.2 54.9,193.8 55.4,193.9" fill="#28527c"/>
<polygon points="54.4,196.0 54.8,195.7 55.3,195.6 55.6,195.9 55.3,196.2 54.8,196.3" fill="#28527c"/>
<polygon points="53.3,196.7 53.9,197.2 53.3,197.8 52.5,197.4 52.4,197.0 52.7,196.7" fill="#28527c"/>
<polygon points="52.3,199.9 51.7,200.3 51.3,199.8 51.2,199.4 51.9,199.0 52.6,199.4" fill="#28527c"/>
<polygon points="114.8,171.1 114.2,171.4 113.5,171.3 113.5,170.9 113.9,170.6 114.8,170.4" fill="#28527c"/>
<polygon points="110.6,171.4 110.0,171.4 109.4,171.2 109.8,170.8 110.4,170.6 110.8,171.0" fill="#28527c"/>
<polygon points="108.4,170.2 107.6,169.7 108.4,169.0 109.5,169.2 109.6,169.8 109.2,170.2" fill="#28527c"/>
<polygon points="106.6,169.7 106.7,169.2 107.2,169.1 107.9,169.1 107.9,169.6 107.2,169.9" fill="#28527c"/>
<polygon points="243.6,470.2 243.5,469.8 243.9,469.4 244.5,469.8 244.6,470.2 244.1,470.4" fill="#28527c"/>
<polygon points="213.1,464.0 212.8,464.5 212.0,464.3 211.5,463.9 212.0,463.5 212.6,463.6" fill="#28527c"/>
<polygon points="215.9,468.9 216.2,469.3 215.5,469.4 214.9,469.3 214.9,468.8 215.5,468.6" fill="#28527c"/>
<polygon points="260.3,466.6 260.6,466.8 260.6,467.0 260.4,467.2 260.1,467.0 260.1,466.8" fill="#28527c"/>
<polygon points="246.6,466.2 246.9,465.9 247.4,466.1 247.6,466.4 247.3,466.6 246.9,466.5" fill="#28527c"/>
<polygon points="239.9,467.4 240.0,467.7 239.5,467.9 239.2,467.7 239.2,467.5 239.5,467.4" fill="#28527c"/>
<polygon points="258.0,466.3 258.2,466.5 258.2,466.9 257.6,466.9 257.2,466.6 257.4,466.2" fill="#28527c"/>
<polygon points="256.5,462.5 256.1,463.0 255.2,462.8 255.4,462.3 255.7,462.1 256.2,462.2" fill="#28527c"/>
<polygon points="209.6,467.8 209.6,467.5 210.1,467.2 210.6,467.6 210.3,467.9 209.8,468.1" fill="#28527c"/>
<polygon points="250.7,467.8 250.1,467.8 249.6,467.5 250.0,467.2 250.5,467.1 250.9,467.4" fill="#28527c"/>
<polygon points="226.5,465.9 226.2,466.2 225.7,466.0 225.7,465.7 226.0,465.5 226.7,465.5" fill="#28527c"/>
<polygon points="209.6,463.1 209.8,463.4 209.6,463.8 208.9,463.7 208.8,463.3 209.2,463.1" fill="#28527c"/>
<polygon points="229.3,467.6 229.2,467.3 229.6,467.2 230.0,467.3 230.1,467.6 229.7,467.9" fill="#28527c"/>
<polygon points="215.0,467.5 215.7,467.5 215.7,468.0 215.2,468.2 214.5,468.3 214.5,467.8" fill="#28527c"/>
<polygon points="235.2,472.1 234.7,472.4 234.1,472.4 233.7,471.9 234.3,471.7 234.9,471.7" fill="#28527c"/>
<polygon points="255.1,461.7 255.3,461.3 255.9,461.3 256.2,461.7 255.9,462.0 255.5,461.9" fill="#28527c"/>
<polygon points="243.8,468.5 243.3,468.6 242.7,468.5 243.1,468.1 243.5,468.0 244.2,468.1" fill="#28527c"/>
<polygon points="236.6,465.1 236.9,465.2 237.0,465.4 236.9,465.6 236.6,465.6 236.4,465.4" fill="#28527c"/>
<polygon points="261.7,465.2 261.7,465.0 261.6,464.7 262.0,464.8 262.2,465.0 262.0,465.2" fill="#28527c"/>
<polygon points="218.1,470.6 218.7,470.3 219.1,470.6 219.3,470.9 218.9,471.4 218.1,471.1" fill="#28527c"/>
<polygon points="253.4,461.6 253.6,461.4 253.9,461.5 254.0,461.7 253.8,461.8 253.4,461.8" fill="#28527c"/>
<polygon points="215.2,465.7 215.5,465.4 216.2,465.5 216.2,466.0 215.7,466.3 215.1,466.1" fill="#28527c"/>
<polygon points="220.1,463.6 220.5,463.9 220.4,464.4 219.7,464.4 219.1,464.1 219.6,463.8" fill="#28527c"/>
<polygon points="229.9,466.5 229.2,466.6 228.7,466.6 228.7,466.3 229.0,465.8 229.6,466.1" fill="#28527c"/>
<polygon points="250.3,468.1 249.7,467.9 250.1,467.6 250.7,467.3 250.9,467.7 250.7,468.0" fill="#28527c"/>
<polygon points="210.1,462.9 210.1,463.4 209.4,463.4 208.7,463.3 209.0,462.7 209.6,462.8" fill="#28527c"/>
<polygon points="207.1,463.8 206.6,463.5 206.9,463.1 207.5,462.9 207.8,463.3 207.9,463.8" fill="#28527c"/>
<polygon points="223.3,464.6 222.4,464.7 222.2,464.2 222.6,463.9 223.1,463.8 223.6,464.1" fill="#28527c"/>
<polygon points="216.9,464.5 217.4,464.5 217.3,464.9 217.0,465.2 216.7,464.9 216.3,464.6" fill="#28527c"/>
<polygon points="261.2,462.0 261.6,461.6 262.3,461.6 262.5,462.1 262.1,462.6 261.5,462.3" fill="#28527c"/>
<polygon points="232.4,466.9 232.1,467.0 231.5,467.0 231.5,466.5 232.1,466.4 232.8,466.5" fill="#28527c"/>
<polygon points="206.4,467.2 206.4,467.7 205.7,467.7 205.5,467.3 205.5,467.0 206.1,466.9" fill="#28527c"/>
<polygon points="218.2,463.4 217.7,463.2 218.0,462.9 218.6,462.7 219.1,463.0 218.8,463.5" fill="#28527c"/>
<polygon points="230.5,465.6 230.6,465.4 230.9,465.5 231.1,465.7 230.9,465.8 230.6,465.8" fill="#28527c"/>
<polygon points="33.3,338.4 32.4,338.7 32.2,338.0 32.4,337.3 33.6,337.3 33.9,338.0" fill="#28527c"/>
<polygon points="35.3,341.3 34.6,341.3 34.0,341.2 34.0,340.7 34.6,340.7 35.2,340.8" fill="#28527c"/>
<polygon points="34.7,343.7 35.2,343.4 35.8,343.5 36.0,343.9 35.6,344.1 35.1,344.0" fill="#28527c"/>
<polygon points="37.7,345.9 38.1,346.5 37.3,346.6 36.5,346.8 36.5,346.2 36.9,345.7" fill="#28527c"/>
<polygon points="37.9,348.8 38.8,348.6 38.8,349.3 38.5,349.6 37.9,349.5 37.4,349.1" fill="#28527c"/>
<polygon points="39.2,352.5 39.0,351.9 38.9,351.4 39.7,351.4 40.4,351.6 40.2,352.3" fill="#28527c"/>
<polygon points="37.0,340.5 36.4,341.0 35.3,340.8 35.8,340.1 36.2,339.6 37.2,339.9" fill="#28527c"/>
<polygon points="36.9,344.2 36.6,343.5 37.0,342.7 37.9,343.2 38.9,343.5 38.0,344.1" fill="#28527c"/>
<polygon points="40.1,347.7 39.6,348.1 38.8,347.8 39.1,347.3 39.6,347.0 40.1,347.3" fill="#28527c"/>
<polygon points="40.1,316.2 39.7,316.2 39.3,315.9 39.8,315.5 40.4,315.7 40.5,316.1" fill="#28527c"/>
<polygon points="26.4,296.0 26.7,295.6 27.3,295.6 27.6,296.0 27.2,296.2 26.7,296.3" fill="#28527c"/>
<polygon points="29.3,300.2 29.3,300.5 29.3,300.9 28.8,300.7 28.6,300.5 28.7,300.1" fill="#28527c"/>
<polygon points="32.7,301.6 33.2,301.8 33.6,302.0 33.3,302.4 32.6,302.4 32.4,302.0" fill="#28527c"/>
<polyline points="281.4,56.6 286.0,59.5 290.9,62.9" fill="none"/>
<polyline points="351.5,48.5 352.8,52.0 353.2,56.5" fill="none"/>
<polyline points="353.5,46.5 355.5,48.5" fill="none"/>
<polyline points="266.2,75.0 270.0,76.0 274.0,76.5" fill="none"/>
<polyline points="268.1,67.5 271.0,66.0 273.5,68.0 272.0,71.0" fill="none"/>
<polyline points="301.3,35.5 303.0,39.0" fill="none"/>
<polyline points="255.0,93.1 257.0,96.0" fill="none"/>
<polyline points="250.5,98.3 250.0,102.0" fill="none"/>
</g>
<g class="reg" transform="translate(395.4 2.15) scale(0.9945)">
<polygon points="368.1,45.0 362.5,43.8 356.2,43.8 354.5,44.0 353.5,46.5 351.5,48.5 350.3,53.0 349.2,58.0 349.3,52.0 349.6,47.5 350.5,44.5 351.2,42.5 345.0,38.1 340.0,31.9 333.8,25.6 327.5,23.8 322.5,19.8 319.5,22.3 317.2,25.8 315.0,25.0 312.7,24.3 309.5,27.4 307.2,26.8 304.8,29.8 303.2,33.8 301.6,37.7 297.7,36.9 293.7,37.7 289.8,39.3 285.8,40.9 284.6,41.5 283.0,44.7 278.3,48.7 273.5,52.6 268.8,55.0 268.0,60.6 267.2,66.1 268.0,71.6 266.4,77.2 264.8,78.7 260.1,74.8 253.8,72.4 248.2,71.6 243.5,70.8 244.3,74.8 240.0,77.5 241.2,80.6 245.0,83.8 251.2,86.9 254.4,90.0 255.0,93.1 252.5,95.0 250.0,93.1 248.8,96.2 246.2,95.6 242.5,91.2 240.0,86.9 237.5,81.9 233.8,81.2 230.0,86.2 225.0,90.0 220.6,95.0 218.1,101.2 218.1,107.5 220.0,112.5 221.9,116.2 217.5,120.0 213.0,124.0 209.5,128.0 207.5,130.0 206.2,133.8 202.5,141.2 197.5,146.2 190.0,150.6 182.5,153.1 173.8,155.0 172.5,155.6 172.5,158.5 186.0,158.5 186.0,155.6 195.0,155.0 196.2,153.1 249.5,153.0 249.5,146.2 302.8,146.2 302.8,183.8 368.1,183.8" fill="#7f2704"/>
<polygon points="172.5,155.6 166.2,156.2 163.1,158.8 158.8,156.9 152.5,156.2 147.5,160.0 141.2,163.1 132.5,165.0 125.0,168.9 126.2,175.0 130.0,177.5 128.8,180.0 130.6,187.5 135.0,192.5 140.0,195.0 141.2,200.0 146.2,201.9 153.8,201.9 155.0,205.0 158.8,206.9 156.2,208.8 150.0,209.4 145.0,208.8 146.2,210.6 151.2,211.2 151.9,215.0 146.2,216.2 143.1,221.2 140.0,228.1 138.1,231.4 186.2,231.8 187.5,238.1 193.1,238.1 193.1,231.8 273.8,231.8 368.1,231.8 368.1,183.8 302.8,183.8 302.8,146.2 249.5,146.2 249.5,153.0 196.2,153.1 195.0,155.0 186.0,155.6 186.0,158.5 172.5,158.5 172.5,155.6" fill="#fddbb8"/>
<polygon points="125.0,168.9 117.5,172.5 112.5,173.1 107.5,170.0 102.5,170.6 97.5,171.9 92.5,173.8 86.2,176.9 80.0,181.2 73.8,186.2 67.5,191.2 61.2,194.4 56.5,196.3 53.6,198.2 51.5,201.5 50.5,204.5 49.6,208.0 49.9,210.9 52.5,210.5 54.3,215.3 57.4,216.5 56.2,221.6 51.8,223.5 54.3,229.1 57.4,231.0 66.2,231.6 72.5,231.0 77.5,237.9 83.8,239.2 84.5,235.4 90.1,236.0 96.4,234.1 97.6,235.4 102.7,235.4 103.9,239.8 119.8,239.6 122.1,237.6 121.7,234.8 119.8,232.9 122.1,230.9 128.7,230.1 130.3,228.6 135.9,228.9 137.4,230.9 138.1,231.4 140.0,228.1 143.1,221.2 146.2,216.2 151.9,215.0 151.2,211.2 146.2,210.6 145.0,208.8 150.0,209.4 156.2,208.8 158.8,206.9 155.0,205.0 153.8,201.9 146.2,201.9 141.2,200.0 140.0,195.0 135.0,192.5 130.6,187.5 128.8,180.0 130.0,177.5 126.2,175.0 125.0,168.9" fill="#fde6d0"/>
<polygon points="49.9,210.9 48.6,211.8 44.9,211.8 43.6,210.3 43.6,202.7 41.1,197.7 38.6,204.0 34.2,212.8 36.7,220.3 36.0,229.1 32.3,236.6 29.8,242.2 27.5,247.5 28.1,255.0 33.1,262.7 37.6,270.4 40.8,277.5 44.7,283.3 46.6,287.1 46.0,292.3 43.4,296.8 40.8,296.1 38.9,292.3 38.3,287.1 37.6,283.9 37.0,286.0 37.2,291.0 37.6,296.1 36.8,297.5 35.5,293.6 35.0,291.0 35.7,287.1 34.4,283.3 30.6,280.7 29.3,277.5 28.5,283.0 28.0,288.4 29.3,292.3 31.8,297.4 33.8,300.6 31.2,298.7 28.0,293.6 24.1,289.0 24.8,292.9 28.0,297.4 31.0,301.5 33.1,301.9 35.7,305.8 38.9,311.6 41.9,313.1 46.2,312.2 46.9,314.4 66.2,315.6 66.9,313.8 69.4,313.1 69.4,304.4 71.2,303.8 71.2,293.8 73.1,292.5 73.1,285.0 76.9,281.9 92.5,281.2 95.0,279.5 113.8,278.8 113.8,273.8 122.5,272.5 122.5,261.2 120.0,260.0 121.2,252.5 123.9,248.0 123.7,242.3 119.8,241.5 119.8,239.6 103.9,239.8 102.7,235.4 97.6,235.4 96.4,234.1 90.1,236.0 84.5,235.4 83.8,239.2 77.5,237.9 72.5,231.0 66.2,231.6 57.4,231.0 54.3,229.1 51.8,223.5 56.2,221.6 57.4,216.5 54.3,215.3 52.5,210.5 49.9,210.9" fill="#fde1c5"/>
<polygon points="119.8,232.9 122.1,230.9 128.7,230.1 130.3,228.6 135.9,228.9 137.4,230.9 138.1,231.4 186.2,231.8 187.5,238.1 193.1,238.1 193.1,231.8 273.8,231.8 273.8,303.8 237.0,303.8 235.0,302.5 232.0,303.0 225.8,305.0 212.0,305.6 210.0,305.6 210.0,316.2 173.1,316.2 173.1,322.5 175.0,323.0 175.0,337.5 172.5,338.1 172.5,341.2 168.1,341.9 167.5,350.0 165.0,355.0 156.2,356.2 153.8,359.4 143.1,359.4 143.1,356.2 138.1,356.2 137.5,366.2 120.0,366.9 117.5,370.0 110.0,370.0 102.5,371.9 92.5,373.1 91.9,378.1 72.5,378.8 61.9,378.1 62.5,371.2 61.9,363.8 58.8,357.5 55.0,351.2 51.9,342.5 47.5,336.2 43.8,330.0 42.5,321.2 41.9,313.1 46.2,312.2 46.9,314.4 66.2,315.6 66.9,313.8 69.4,313.1 69.4,304.4 71.2,303.8 71.2,293.8 73.1,292.5 73.1,285.0 76.9,281.9 92.5,281.2 95.0,279.5 113.8,278.8 113.8,273.8 122.5,272.5 122.5,261.2 120.0,260.0 121.2,252.5 123.9,248.0 123.7,242.3 119.8,241.5 119.8,239.6 122.1,237.6 121.7,234.8 119.8,232.9" fill="#fa8331"/>
<polygon points="273.8,231.8 368.1,231.8 368.1,411.2 361.2,414.4 355.0,416.9 345.0,420.6 336.2,423.1 330.0,424.4 317.5,425.0 311.2,424.4 305.6,423.1 301.2,424.4 292.5,430.0 288.0,431.0 279.5,434.8 272.0,437.2 263.9,438.5 247.6,437.2 247.6,431.0 183.8,431.0 183.8,434.8 171.5,434.8 171.5,422.2 171.9,378.1 137.5,366.2 138.1,356.2 143.1,356.2 143.1,359.4 153.8,359.4 156.2,356.2 165.0,355.0 167.5,350.0 168.1,341.9 172.5,341.2 172.5,338.1 175.0,337.5 175.0,323.0 173.1,322.5 173.1,316.2 210.0,316.2 210.0,305.6 212.0,305.6 225.8,305.0 232.0,303.0 235.0,302.5 237.0,303.8 273.8,303.8 273.8,231.8" fill="#fdc692"/>
<polygon points="61.9,378.1 64.4,385.0 66.2,393.0 70.0,397.5 77.5,405.0 85.0,410.0 90.0,415.0 91.0,417.0 90.5,422.2 93.0,422.9 98.0,425.4 110.5,424.0 123.0,422.9 138.8,423.5 171.5,422.2 171.9,378.1 137.5,366.2 120.0,366.9 117.5,370.0 110.0,370.0 102.5,371.9 92.5,373.1 91.9,378.1 72.5,378.8 61.9,378.1" fill="#fde3c8"/>
<polygon points="90.5,422.2 93.0,422.9 98.0,425.4 110.5,424.0 123.0,422.9 138.8,423.5 171.5,422.2 171.5,434.8 183.8,434.8 180.0,437.9 172.5,442.9 170.0,447.2 163.8,450.4 158.8,453.5 158.8,452.2 153.8,449.8 151.2,446.0 136.2,446.6 128.0,448.5 123.0,450.4 113.0,451.0 104.2,452.9 101.8,456.0 98.0,454.8 91.8,451.0 92.4,441.0 86.1,440.4 85.5,435.4 84.2,435.4 83.6,433.5 84.9,429.0 89.2,427.9 88.6,424.0 90.5,422.2" fill="#fee6cf"/>
<polygon points="78.6,452.2 85.5,451.0 91.8,451.0 98.0,454.8 101.8,456.0 101.1,459.2 102.4,464.2 100.5,469.2 101.8,474.2 103.0,479.2 100.5,483.6 98.0,484.2 91.8,482.4 85.5,479.2 79.2,474.2 74.2,470.5 69.9,468.0 69.9,465.4 72.4,463.5 74.9,459.8 79.2,456.6 78.6,453.5" fill="#ffffff"/>
<polygon points="101.8,456.0 104.2,452.9 113.0,451.0 123.0,450.4 128.0,448.5 136.2,446.6 151.2,446.0 153.8,449.8 158.8,452.2 158.8,453.5 160.0,457.2 156.2,462.2 157.5,468.5 158.8,470.4 152.5,472.2 145.0,474.8 137.5,479.0 133.0,481.8 128.0,484.9 125.5,486.8 119.2,486.1 113.0,484.9 106.8,484.2 100.5,483.6 103.0,479.2 101.8,474.2 100.5,469.2 102.4,464.2 101.1,459.2 101.8,456.0" fill="#b13a08"/>
<polygon points="183.8,434.8 183.8,431.0 247.6,431.0 247.6,437.2 263.9,438.5 262.0,443.5 259.5,449.8 257.0,454.8 252.0,458.5 247.0,460.4 242.0,462.9 239.5,459.8 229.5,460.4 222.0,461.0 217.0,461.6 210.8,459.8 204.5,459.1 195.0,458.5 182.5,459.8 175.0,460.4 170.0,462.2 163.8,466.0 158.8,470.4 157.5,468.5 156.2,462.2 160.0,457.2 158.8,453.5 163.8,450.4 170.0,447.2 172.5,442.9 180.0,437.9 183.8,434.8" fill="#fdc38d"/>
<polygon points="76.1,436.0 85.5,435.4 86.1,440.4 92.4,441.0 91.8,451.0 85.5,451.0 78.6,452.2 73.0,452.2 73.6,447.2 76.8,442.9" fill="#7f2704"/>
<polygon points="61.8,453.5 73.0,452.9 78.6,453.5 79.2,456.6 74.9,459.8 72.4,463.5 69.9,465.4 69.9,468.5 66.8,471.0 63.6,468.5 62.4,463.5 61.5,458.5" fill="#e45a1b"/>
<polygon points="17.7,276.8 19.6,277.5 20.9,283.3 22.8,288.4 25.4,292.3 24.1,292.9 20.9,288.4 18.4,282.6 17.0,278.1" fill="#fde1c5"/>
<polygon points="21.9,260.8 22.6,260.9 20.7,271.1 20.0,271.0" fill="#fde1c5"/>
<polygon points="70.0,173.8 71.5,170.0 73.5,165.6 74.8,166.2 73.5,170.5 71.2,175.0" fill="#fde6d0"/>
<polygon points="95.0,170.0 98.0,167.5 100.0,166.0 102.0,165.0 104.5,166.5 102.0,169.0 98.5,170.0" fill="#fde6d0"/>
<polygon points="226.0,92.0 227.5,91.5 227.0,93.5" fill="#28527c"/>
<polygon points="320.1,17.9 320.6,17.7 321.1,17.7 321.1,18.1 320.9,18.4 320.4,18.2" fill="#28527c"/>
<polygon points="318.9,18.8 318.0,18.7 318.1,18.2 318.7,17.9 319.5,17.9 319.2,18.4" fill="#28527c"/>
<polygon points="319.3,21.7 320.0,22.0 319.6,22.6 318.7,22.6 318.1,22.1 318.7,21.7" fill="#28527c"/>
<polygon points="316.4,22.4 315.8,21.8 316.3,21.2 317.3,20.9 318.0,21.6 317.3,22.1" fill="#28527c"/>
<polygon points="314.6,23.6 314.2,22.6 314.2,21.8 315.4,21.3 316.0,22.2 316.0,23.0" fill="#28527c"/>
<polygon points="315.1,22.7 315.7,23.4 314.7,24.0 313.5,23.8 313.3,23.0 314.0,22.2" fill="#28527c"/>
<polygon points="312.8,23.4 314.6,23.4 315.0,24.3 314.7,25.1 313.4,25.4 313.1,24.5" fill="#28527c"/>
<polygon points="313.4,23.9 313.8,24.1 313.8,24.4 313.2,24.7 312.9,24.3 312.8,23.9" fill="#28527c"/>
<polygon points="309.5,23.3 308.5,22.7 308.2,21.5 310.1,21.0 310.7,22.1 310.6,22.9" fill="#28527c"/>
<polygon points="310.5,24.5 309.6,24.3 309.7,23.6 310.7,23.1 312.0,23.5 311.7,24.5" fill="#28527c"/>
<polygon points="309.5,24.0 309.6,24.6 308.9,24.9 308.4,24.6 308.3,24.2 308.8,24.1" fill="#28527c"/>
<polygon points="310.3,26.7 309.7,26.6 309.5,26.3 309.7,26.0 310.2,26.0 310.6,26.3" fill="#28527c"/>
<polygon points="307.0,25.8 306.4,25.6 306.5,25.2 307.0,24.8 307.8,25.1 307.6,25.6" fill="#28527c"/>
<polygon points="307.8,27.5 307.3,26.9 307.4,26.5 308.0,25.8 308.8,26.4 308.5,27.0" fill="#28527c"/>
<polygon points="307.1,24.4 307.2,25.6 306.4,26.3 305.2,26.0 304.0,25.1 305.4,24.3" fill="#7f2704"/>
<polygon points="307.4,27.4 306.7,28.5 304.9,28.7 303.9,27.7 305.0,26.9 306.2,26.6" fill="#7f2704"/>
<polygon points="305.2,29.2 304.3,28.9 304.6,28.2 305.4,27.7 306.4,28.2 306.3,29.0" fill="#28527c"/>
<polygon points="304.4,30.1 303.5,30.0 303.2,29.3 303.9,29.0 304.8,29.1 305.1,29.7" fill="#28527c"/>
<polygon points="301.3,28.1 302.2,28.7 302.8,29.6 301.3,29.8 299.8,29.6 299.6,28.4" fill="#7f2704"/>
<polygon points="301.2,30.4 300.2,30.4 299.0,29.8 299.9,28.8 301.2,29.3 302.4,29.8" fill="#7f2704"/>
<polygon points="302.1,34.1 301.5,34.5 300.7,34.4 300.2,34.0 300.9,33.6 301.7,33.5" fill="#28527c"/>
<polygon points="301.5,36.7 300.9,36.3 300.7,35.8 301.4,35.6 302.4,35.6 302.1,36.3" fill="#28527c"/>
<polygon points="299.1,34.2 299.1,34.9 298.2,35.3 297.7,34.8 297.4,34.2 298.2,34.1" fill="#28527c"/>
<polygon points="298.7,36.0 299.5,36.3 299.8,37.0 299.0,37.5 297.8,37.3 298.1,36.6" fill="#28527c"/>
<polygon points="296.6,36.4 297.3,35.4 299.1,35.3 299.4,36.4 298.7,37.3 297.3,37.2" fill="#7f2704"/>
<polygon points="294.2,36.0 294.9,35.2 296.3,35.0 297.2,35.8 296.3,36.4 295.3,36.6" fill="#7f2704"/>
<polygon points="295.2,37.3 294.5,37.5 293.5,37.5 293.4,36.7 294.4,36.1 295.1,36.8" fill="#28527c"/>
<polygon points="293.6,37.4 293.8,38.6 292.0,38.5 291.0,37.8 291.1,36.6 293.0,36.4" fill="#7f2704"/>
<polygon points="290.9,37.6 289.9,37.6 290.1,37.0 290.3,36.5 291.2,36.6 291.2,37.1" fill="#28527c"/>
<polygon points="289.8,37.7 289.6,38.2 288.9,38.0 288.6,37.8 288.8,37.5 289.4,37.2" fill="#28527c"/>
<polygon points="289.2,37.5 289.8,38.2 289.8,39.4 288.0,39.3 286.9,38.4 288.1,37.7" fill="#7f2704"/>
<polygon points="287.2,38.9 287.2,39.4 286.5,39.4 285.8,39.3 286.2,38.9 286.7,38.5" fill="#28527c"/>
<polygon points="285.2,39.8 283.9,39.5 284.4,38.5 285.5,38.3 286.4,38.7 286.1,39.4" fill="#28527c"/>
<polygon points="284.4,41.2 283.8,40.5 283.9,39.7 285.0,39.8 285.8,40.1 285.3,40.7" fill="#28527c"/>
<polygon points="284.5,41.4 284.9,42.1 283.7,42.2 282.9,41.9 282.8,41.0 284.0,40.9" fill="#28527c"/>
<polygon points="281.3,39.3 281.8,39.9 281.2,40.4 280.3,40.4 280.1,39.9 280.4,39.6" fill="#28527c"/>
<polygon points="283.4,44.1 282.6,44.4 281.8,44.0 282.0,43.6 282.6,43.4 283.1,43.6" fill="#28527c"/>
<polygon points="283.0,43.5 282.4,44.1 281.6,44.1 280.7,43.9 281.3,43.3 282.0,43.2" fill="#28527c"/>
<polygon points="280.9,45.3 280.2,44.9 279.7,44.4 280.4,44.1 281.3,44.0 281.3,44.6" fill="#28527c"/>
<polygon points="278.9,45.8 279.9,45.1 281.2,45.2 281.8,46.1 280.7,46.6 279.6,46.5" fill="#7f2704"/>
<polygon points="277.3,46.2 277.6,46.6 277.3,47.1 276.5,47.1 276.5,46.6 276.6,46.3" fill="#28527c"/>
<polygon points="273.6,46.2 275.3,45.7 276.7,46.3 276.3,47.2 275.3,47.4 274.4,47.2" fill="#7f2704"/>
<polygon points="274.0,46.3 275.3,46.0 276.0,46.7 275.4,47.2 274.5,47.8 273.6,47.1" fill="#28527c"/>
<polygon points="274.1,48.4 274.5,48.6 274.6,48.9 274.2,49.3 273.8,48.9 273.5,48.5" fill="#28527c"/>
<polygon points="273.1,49.9 274.3,50.5 273.7,51.2 272.9,51.5 272.0,51.1 271.7,50.2" fill="#28527c"/>
<polygon points="272.5,53.1 271.9,52.8 272.0,52.3 272.6,52.3 273.1,52.5 273.1,52.9" fill="#28527c"/>
<polygon points="270.6,50.2 269.9,50.6 269.3,50.8 268.6,50.4 269.0,49.8 269.9,49.9" fill="#28527c"/>
<polygon points="267.6,50.6 268.1,50.2 269.0,50.4 268.6,50.9 268.1,51.4 267.4,51.0" fill="#28527c"/>
<polygon points="266.8,52.4 266.6,53.0 265.5,52.9 265.3,52.2 265.9,51.8 266.8,51.8" fill="#28527c"/>
<polygon points="268.7,56.2 270.1,56.8 269.0,57.7 267.3,57.8 267.1,56.7 267.7,56.0" fill="#7f2704"/>
<polygon points="266.2,56.9 266.4,56.5 266.9,56.3 267.9,56.4 267.5,57.0 266.8,57.6" fill="#28527c"/>
<polygon points="266.3,57.8 266.1,57.1 266.8,56.7 267.7,56.9 268.1,57.5 267.3,58.0" fill="#28527c"/>
<polygon points="266.2,60.3 266.7,59.3 268.0,59.2 268.6,59.8 269.1,60.8 267.6,60.6" fill="#7f2704"/>
<polygon points="268.4,60.1 268.2,61.0 266.9,60.9 265.9,60.4 266.5,59.6 267.6,59.6" fill="#28527c"/>
<polygon points="265.4,59.9 264.0,59.6 264.2,58.7 265.0,58.4 265.8,58.6 265.9,59.1" fill="#28527c"/>
<polygon points="266.1,62.0 267.0,61.6 267.8,62.0 267.8,62.5 267.2,62.9 266.5,62.6" fill="#28527c"/>
<polygon points="268.0,64.0 266.4,64.4 264.9,63.6 266.0,62.7 267.2,62.4 268.1,63.0" fill="#7f2704"/>
<polygon points="265.1,61.8 265.3,62.4 264.9,63.4 263.1,63.2 263.1,62.0 264.0,61.2" fill="#28527c"/>
<polygon points="265.8,62.4 265.7,63.5 264.9,64.1 263.9,64.0 263.1,63.3 263.9,62.4" fill="#7f2704"/>
<polygon points="264.9,66.5 265.3,65.8 266.2,66.3 266.9,67.0 265.8,67.4 264.9,67.1" fill="#28527c"/>
<polygon points="266.8,68.2 265.9,68.7 264.8,68.2 265.2,67.3 266.3,67.2 267.4,67.5" fill="#7f2704"/>
<polygon points="265.5,68.5 267.4,68.6 268.1,69.5 267.6,70.3 266.0,71.0 265.0,69.8" fill="#7f2704"/>
<polygon points="265.9,70.6 265.6,69.8 266.9,69.1 267.7,70.0 267.5,70.6 266.8,71.0" fill="#28527c"/>
<polygon points="266.9,72.0 267.9,72.5 268.7,73.5 267.1,73.8 265.5,73.6 266.0,72.6" fill="#7f2704"/>
<polygon points="265.3,74.0 265.8,73.2 267.2,73.1 268.2,73.9 267.6,75.2 265.9,74.6" fill="#7f2704"/>
<polygon points="264.5,72.0 264.2,72.3 263.3,72.3 263.2,71.7 263.9,71.3 264.8,71.4" fill="#28527c"/>
<polygon points="264.8,74.6 263.7,75.1 262.5,75.0 262.2,74.2 263.0,73.7 263.9,73.9" fill="#7f2704"/>
<polygon points="262.1,75.1 262.0,75.5 261.4,75.8 260.8,75.3 261.2,74.9 261.8,74.9" fill="#28527c"/>
<polygon points="260.2,75.1 260.4,74.5 260.6,74.1 261.5,74.1 261.7,74.7 261.0,74.9" fill="#28527c"/>
<polygon points="260.1,73.3 260.8,73.8 260.8,74.3 260.2,74.8 259.4,74.4 259.6,73.8" fill="#28527c"/>
<polygon points="261.1,74.9 261.6,75.2 261.7,75.7 261.1,75.7 260.7,75.6 260.6,75.2" fill="#28527c"/>
<polygon points="258.5,72.9 258.9,73.7 257.7,74.1 256.6,73.6 256.7,72.7 257.9,72.4" fill="#28527c"/>
<polygon points="257.8,73.3 256.9,74.1 255.9,73.3 256.1,72.7 256.8,72.4 258.1,72.4" fill="#28527c"/>
<polygon points="253.3,71.1 252.4,70.6 252.1,69.7 253.6,69.0 254.8,69.9 254.4,70.8" fill="#7f2704"/>
<polygon points="254.4,70.1 254.5,71.0 254.2,72.0 252.9,71.6 252.1,70.9 253.0,70.2" fill="#28527c"/>
<polygon points="254.7,72.7 253.7,72.6 253.4,72.1 253.6,71.7 254.6,71.4 254.9,72.0" fill="#28527c"/>
<polygon points="252.5,71.0 251.0,71.7 249.3,70.9 249.5,69.5 251.3,69.7 252.5,70.0" fill="#7f2704"/>
<polygon points="250.5,68.6 250.8,69.5 249.5,69.7 248.7,69.2 248.4,68.3 249.7,67.8" fill="#28527c"/>
<polygon points="249.0,70.5 248.7,70.1 249.1,69.8 249.9,69.8 250.2,70.4 249.5,70.6" fill="#28527c"/>
<polygon points="248.1,70.2 247.4,70.0 247.8,69.5 248.5,69.6 248.8,69.8 248.7,70.2" fill="#28527c"/>
<polygon points="248.0,70.9 248.7,71.0 248.9,71.4 248.6,71.9 247.9,71.6 247.5,71.2" fill="#28527c"/>
<polygon points="244.4,69.4 243.4,68.5 244.8,67.9 245.9,68.2 247.4,69.0 245.8,69.7" fill="#7f2704"/>
<polygon points="244.3,68.8 243.5,69.1 242.8,68.5 243.3,67.6 244.3,68.0 245.2,68.4" fill="#28527c"/>
<polygon points="243.7,70.6 244.6,70.3 245.4,70.2 245.9,70.7 245.3,71.4 244.5,71.0" fill="#28527c"/>
<polygon points="242.0,67.8 240.8,68.1 239.6,68.1 239.5,67.2 240.4,66.6 241.2,67.1" fill="#28527c"/>
<polygon points="243.2,69.4 243.8,70.0 243.3,70.8 241.9,70.9 241.3,70.1 242.1,69.5" fill="#28527c"/>
<polygon points="240.7,70.0 241.3,69.9 242.0,69.8 241.8,70.3 241.5,70.6 240.9,70.4" fill="#28527c"/>
<polygon points="242.0,73.2 242.2,72.4 243.2,72.0 243.8,72.6 244.2,73.3 243.1,73.6" fill="#28527c"/>
<polygon points="241.8,73.5 240.9,73.3 240.6,72.9 240.9,72.3 241.8,72.5 242.4,73.0" fill="#28527c"/>
<polygon points="241.5,73.1 242.1,73.4 242.0,73.8 241.6,74.1 241.1,73.9 240.8,73.4" fill="#28527c"/>
<polygon points="238.6,72.7 240.1,73.1 239.0,74.0 237.5,74.4 236.4,73.4 237.6,72.8" fill="#7f2704"/>
<polygon points="239.8,76.7 240.9,76.7 240.4,77.4 239.7,77.9 239.2,77.3 239.0,76.8" fill="#28527c"/>
<polygon points="260.6,72.6 261.1,72.3 261.7,72.3 262.0,72.6 262.0,73.4 260.9,73.2" fill="#28527c"/>
<polygon points="262.0,73.0 260.6,73.4 259.7,72.7 259.5,71.6 261.2,71.4 262.3,72.1" fill="#7f2704"/>
<polygon points="259.6,71.2 261.2,70.7 261.9,71.8 262.2,73.1 260.2,73.1 259.3,72.2" fill="#7f2704"/>
<polygon points="258.3,73.8 259.1,73.8 258.9,74.3 258.3,74.7 257.4,74.5 257.5,73.9" fill="#28527c"/>
<polygon points="256.7,73.4 256.5,73.7 255.9,73.6 255.7,73.2 256.0,72.8 256.6,73.1" fill="#28527c"/>
<polygon points="248.1,75.5 247.8,75.7 247.3,75.8 247.0,75.5 247.2,75.1 247.9,75.1" fill="#28527c"/>
<polygon points="248.1,76.0 246.8,75.9 246.3,75.4 246.6,74.9 247.5,74.5 248.5,75.1" fill="#28527c"/>
<polygon points="259.6,73.9 259.1,74.4 258.2,74.3 257.7,73.8 258.3,73.4 259.3,73.2" fill="#28527c"/>
<polygon points="259.2,73.2 258.0,73.8 256.8,73.5 256.7,72.7 257.2,71.7 258.3,72.4" fill="#28527c"/>
<polygon points="254.3,77.9 253.5,77.7 253.2,77.2 253.7,76.7 254.4,77.0 254.7,77.4" fill="#28527c"/>
<polygon points="249.4,70.4 249.9,71.4 250.4,72.5 248.6,72.8 247.6,71.9 247.7,70.8" fill="#7f2704"/>
<polygon points="252.1,73.1 251.5,73.0 251.2,72.5 252.0,72.2 252.8,72.4 252.8,73.0" fill="#28527c"/>
<polygon points="248.6,74.1 249.1,74.7 249.2,75.4 248.0,75.8 247.5,75.0 247.3,74.2" fill="#28527c"/>
<polygon points="243.3,72.2 244.2,72.6 244.0,73.2 243.4,73.7 242.7,73.2 242.7,72.8" fill="#28527c"/>
<polygon points="260.2,74.3 261.8,74.6 262.8,75.3 261.9,76.2 260.3,76.3 259.9,75.3" fill="#7f2704"/>
<polygon points="257.7,75.6 257.0,75.2 256.3,74.7 257.3,74.5 257.9,74.7 258.1,75.1" fill="#28527c"/>
<polygon points="262.1,73.6 261.9,74.1 261.0,73.9 260.7,73.4 261.3,72.9 261.9,73.2" fill="#28527c"/>
<polygon points="255.6,72.5 255.7,73.6 255.9,74.7 254.0,74.8 252.9,73.7 254.2,73.1" fill="#7f2704"/>
<polygon points="247.6,71.6 247.8,72.1 247.5,72.5 246.7,72.4 246.6,72.0 246.9,71.7" fill="#28527c"/>
<polygon points="244.6,76.6 244.4,76.2 244.6,75.8 245.2,75.7 245.9,76.1 245.4,76.6" fill="#28527c"/>
<polygon points="250.1,76.8 250.1,77.5 249.8,78.1 248.8,78.1 248.0,77.4 249.0,76.9" fill="#28527c"/>
<polygon points="257.5,74.4 258.1,74.9 257.3,75.1 256.8,75.0 256.5,74.7 256.7,74.1" fill="#28527c"/>
<polygon points="261.2,71.4 262.1,70.9 263.1,70.7 263.5,71.3 263.3,72.1 262.2,71.9" fill="#28527c"/>
<polygon points="261.6,72.6 262.3,72.8 262.8,73.2 262.1,73.5 261.2,73.6 260.9,73.0" fill="#28527c"/>
<polygon points="258.0,75.7 257.6,75.0 258.7,74.9 259.8,74.8 259.3,75.5 258.8,75.8" fill="#28527c"/>
<polygon points="247.2,77.8 247.4,76.9 248.0,76.3 249.1,76.5 249.6,77.3 248.6,78.0" fill="#28527c"/>
<polygon points="256.6,74.2 255.5,74.2 254.8,73.6 255.5,73.1 256.3,73.0 257.1,73.5" fill="#28527c"/>
<polygon points="255.2,71.7 255.4,72.3 254.8,72.7 253.6,72.7 253.3,71.8 254.4,71.6" fill="#28527c"/>
<polygon points="245.4,72.8 245.8,72.4 246.6,72.5 247.4,73.0 246.5,73.6 245.7,73.2" fill="#28527c"/>
<polygon points="263.5,71.9 263.0,72.6 261.9,72.5 261.5,72.0 261.6,71.3 262.5,71.5" fill="#28527c"/>
<polygon points="246.5,74.1 246.4,73.6 247.1,73.3 247.7,73.5 247.7,74.0 247.2,74.1" fill="#28527c"/>
<polygon points="256.2,73.4 256.4,74.3 255.2,75.0 254.0,74.4 254.1,73.6 255.0,72.8" fill="#28527c"/>
<polygon points="261.5,75.4 262.1,76.4 261.1,77.1 259.9,76.9 259.2,76.1 260.2,75.7" fill="#7f2704"/>
<polygon points="250.7,75.8 251.7,75.5 252.6,76.1 252.4,77.0 251.0,77.1 249.9,76.5" fill="#7f2704"/>
<polygon points="261.8,71.7 262.8,72.2 263.0,73.2 261.5,73.0 260.4,72.8 260.9,72.1" fill="#28527c"/>
<polygon points="259.6,77.8 258.5,78.1 257.4,77.7 257.7,76.9 258.8,76.5 260.0,76.9" fill="#28527c"/>
<polygon points="253.9,75.1 252.4,74.6 251.6,73.6 253.2,73.2 255.0,72.9 254.8,74.2" fill="#7f2704"/>
<polygon points="245.1,73.1 244.5,73.6 243.5,73.7 243.2,73.0 243.8,72.5 244.6,72.6" fill="#28527c"/>
<polygon points="258.1,78.3 257.0,77.8 257.0,77.1 257.7,76.8 258.9,76.7 259.2,77.6" fill="#28527c"/>
<polygon points="255.9,75.4 254.9,74.7 254.5,74.0 255.5,73.3 256.8,73.7 256.8,74.6" fill="#28527c"/>
<polygon points="249.2,74.4 249.8,74.8 249.2,75.2 248.5,75.2 248.3,74.8 248.5,74.4" fill="#28527c"/>
<polygon points="246.5,72.0 245.6,71.6 245.7,70.7 247.0,70.5 248.1,71.0 247.9,72.0" fill="#28527c"/>
<polygon points="252.0,77.7 250.6,78.6 248.8,78.0 249.3,77.0 249.9,76.0 251.5,76.5" fill="#7f2704"/>
<polygon points="242.6,70.7 243.8,70.7 244.4,71.3 244.0,72.1 242.5,72.5 241.9,71.4" fill="#28527c"/>
<polygon points="247.0,78.2 245.3,78.0 244.3,77.1 245.3,76.1 247.0,76.0 247.8,77.1" fill="#7f2704"/>
<polygon points="258.2,72.4 259.4,71.8 260.9,71.7 261.1,72.7 260.1,73.3 259.1,73.1" fill="#7f2704"/>
<polygon points="282.6,38.0 282.7,37.6 283.3,37.5 283.8,37.9 283.7,38.4 283.0,38.2" fill="#28527c"/>
<polygon points="288.0,37.0 289.3,37.2 289.8,37.9 289.6,38.8 288.3,38.3 287.4,37.9" fill="#28527c"/>
<polygon points="286.4,35.1 287.7,35.5 288.8,36.2 287.6,36.9 286.4,36.8 285.5,36.0" fill="#7f2704"/>
<polygon points="281.4,39.8 281.2,38.8 281.7,38.1 282.9,38.1 283.8,38.9 282.7,39.4" fill="#7f2704"/>
<polygon points="285.9,37.1 287.0,37.6 286.1,38.3 284.9,38.4 284.5,37.7 284.8,37.0" fill="#28527c"/>
<polygon points="289.2,39.3 288.6,38.6 289.0,37.7 290.6,37.7 291.5,38.6 290.3,39.1" fill="#7f2704"/>
<polygon points="288.7,39.7 287.9,40.0 287.1,39.9 286.3,39.2 287.5,38.7 288.8,38.9" fill="#28527c"/>
<polygon points="287.3,39.0 288.6,38.7 289.6,39.4 289.4,40.3 288.1,40.3 287.0,39.9" fill="#28527c"/>
<polygon points="285.9,39.3 285.2,39.5 284.7,39.0 285.3,38.5 286.0,38.7 286.6,39.1" fill="#28527c"/>
<polygon points="288.0,38.8 287.6,38.3 287.7,37.8 288.6,37.6 289.5,38.1 288.7,38.5" fill="#28527c"/>
<polygon points="286.8,35.7 287.5,36.1 287.0,36.5 286.4,36.4 285.9,36.2 286.0,35.7" fill="#28527c"/>
<polygon points="288.9,40.2 288.4,39.5 289.5,39.3 290.2,39.6 290.1,40.1 289.5,40.4" fill="#28527c"/>
<polygon points="289.2,37.2 287.4,37.2 286.6,36.8 285.9,35.8 287.5,35.6 289.1,35.9" fill="#7f2704"/>
<polygon points="283.1,35.0 284.7,35.4 284.4,36.4 283.9,37.2 282.3,37.0 282.2,35.9" fill="#28527c"/>
<polygon points="269.8,52.9 270.7,53.1 271.7,53.9 270.4,54.8 269.2,54.0 268.7,53.2" fill="#7f2704"/>
<polygon points="267.6,53.2 267.8,52.4 269.3,52.2 270.0,53.1 269.6,54.1 268.2,53.8" fill="#28527c"/>
<polygon points="268.3,53.4 269.4,53.2 270.6,53.7 270.3,54.8 268.6,55.0 267.8,54.2" fill="#7f2704"/>
<polygon points="265.0,51.4 266.5,52.1 267.2,53.0 266.2,54.2 264.2,53.7 263.9,52.5" fill="#7f2704"/>
<polygon points="264.4,55.0 264.1,53.9 265.2,52.9 267.0,53.3 266.9,54.4 265.9,54.8" fill="#7f2704"/>
<polygon points="266.0,53.2 266.1,54.1 266.3,55.0 264.7,55.1 263.8,54.3 264.6,53.5" fill="#28527c"/>
<polygon points="264.7,54.7 266.2,55.2 266.4,56.0 266.0,56.8 264.4,56.9 264.3,55.8" fill="#28527c"/>
<polygon points="268.0,55.8 268.9,55.7 269.4,56.1 269.3,56.5 268.6,56.9 267.8,56.5" fill="#28527c"/>
<polygon points="266.9,52.1 268.1,52.5 268.2,53.6 266.5,54.1 265.4,53.2 265.6,52.3" fill="#7f2704"/>
<polygon points="268.0,53.8 267.2,53.7 266.8,53.2 267.3,52.8 268.1,52.8 268.2,53.3" fill="#28527c"/>
<polygon points="264.7,57.0 263.6,57.3 263.1,56.7 263.0,56.0 263.9,55.9 264.8,56.2" fill="#28527c"/>
<polygon points="264.7,51.8 265.3,52.9 264.1,53.5 262.3,53.6 262.2,52.4 263.0,51.2" fill="#7f2704"/>
<polygon points="268.8,56.5 267.8,56.2 267.9,55.4 268.9,55.1 269.8,55.4 270.3,56.4" fill="#28527c"/>
<polygon points="270.5,54.0 271.1,54.9 269.7,55.3 268.7,54.7 267.7,53.7 269.5,53.5" fill="#7f2704"/>
<polygon points="304.1,26.3 305.6,26.2 306.0,27.1 305.9,28.4 303.7,28.4 303.6,27.1" fill="#28527c"/>
<polygon points="303.3,24.9 303.3,25.8 302.2,25.8 301.2,25.9 301.2,25.1 302.1,24.7" fill="#28527c"/>
<polygon points="307.0,23.8 307.7,24.3 307.5,24.8 306.9,25.1 306.1,24.8 306.5,24.4" fill="#28527c"/>
<polygon points="303.1,25.5 303.3,25.1 303.8,25.1 304.5,25.4 303.9,25.7 303.3,26.0" fill="#28527c"/>
<polygon points="303.4,25.9 301.5,25.3 301.1,24.0 302.8,23.7 304.1,23.8 304.0,24.7" fill="#7f2704"/>
<polygon points="305.6,28.2 305.5,27.3 306.9,27.2 308.0,27.7 307.3,28.4 306.4,28.7" fill="#28527c"/>
<polygon points="303.2,28.3 301.9,28.0 301.2,27.5 301.8,27.0 302.6,26.8 303.8,27.3" fill="#28527c"/>
<polygon points="303.1,26.0 302.9,25.1 302.8,24.2 304.0,24.6 305.1,24.9 304.4,25.7" fill="#28527c"/>
<polygon points="303.0,26.9 302.3,26.7 302.0,25.9 303.1,25.5 304.1,26.0 303.6,26.6" fill="#28527c"/>
<polygon points="303.4,27.9 304.2,27.8 303.8,28.3 303.6,28.8 303.0,28.5 303.0,28.1" fill="#28527c"/>
<polygon points="302.4,28.6 301.1,28.8 301.1,27.9 301.5,27.2 302.5,27.5 302.9,28.0" fill="#28527c"/>
<polygon points="306.3,27.6 305.9,28.0 305.2,27.7 305.3,27.2 305.8,27.0 306.6,27.1" fill="#28527c"/>
<polygon points="297.5,35.1 296.3,35.3 296.2,34.4 296.8,33.6 297.8,34.2 298.7,34.8" fill="#28527c"/>
<polygon points="294.1,34.7 293.9,33.6 295.7,33.8 296.9,34.6 295.7,35.4 294.5,35.4" fill="#7f2704"/>
<polygon points="297.4,32.8 297.5,32.3 297.8,31.8 298.5,32.0 298.8,32.5 298.1,32.7" fill="#28527c"/>
<polygon points="296.5,35.7 295.9,34.7 296.3,33.6 297.7,34.0 299.2,34.5 298.4,35.7" fill="#7f2704"/>
<polygon points="295.3,33.0 295.5,32.0 296.6,32.6 296.8,33.2 296.2,33.6 295.3,33.5" fill="#28527c"/>
<polygon points="297.7,30.3 298.2,30.4 298.7,30.8 298.1,31.1 297.4,31.0 297.1,30.5" fill="#28527c"/>
<polygon points="294.5,35.0 293.9,35.7 292.6,35.5 292.6,34.6 293.4,34.2 294.5,34.3" fill="#28527c"/>
<polygon points="294.8,34.3 293.1,34.6 292.7,33.5 292.7,32.4 294.6,32.2 295.2,33.3" fill="#28527c"/>
<polygon points="294.3,35.3 294.2,34.3 295.4,34.0 296.2,34.3 296.4,35.0 295.7,35.4" fill="#28527c"/>
<polygon points="299.7,33.3 299.9,34.4 299.8,35.4 298.1,35.8 296.8,34.7 298.2,33.9" fill="#7f2704"/>
<polygon points="294.9,33.6 295.2,33.1 296.2,33.2 296.1,33.7 295.8,34.1 294.6,34.4" fill="#28527c"/>
<polygon points="298.3,34.1 299.3,35.0 298.2,35.6 297.2,36.1 296.6,35.3 296.8,34.4" fill="#7f2704"/>
<polygon points="273.3,48.1 274.6,47.7 275.6,48.4 275.7,49.7 273.9,49.6 272.9,49.0" fill="#7f2704"/>
<polygon points="278.4,46.4 277.9,47.1 276.9,47.4 276.0,46.8 276.5,46.2 277.4,46.0" fill="#28527c"/>
<polygon points="272.9,48.0 272.4,47.6 272.3,47.0 273.4,46.6 274.1,47.3 273.8,48.0" fill="#28527c"/>
<polygon points="275.9,47.2 276.2,46.3 277.6,46.2 278.3,46.8 277.9,47.5 276.9,47.7" fill="#28527c"/>
<polygon points="277.2,48.0 276.8,48.9 275.6,48.5 274.8,47.9 275.6,47.2 276.7,47.4" fill="#28527c"/>
<polygon points="280.4,48.0 279.1,48.6 278.6,47.5 279.4,47.0 280.5,46.7 281.2,47.4" fill="#7f2704"/>
<polygon points="278.9,46.4 278.3,46.8 277.7,47.0 277.2,46.7 277.2,46.1 278.1,45.9" fill="#28527c"/>
<polygon points="278.7,49.2 279.9,49.6 279.8,50.4 278.9,51.1 277.7,50.6 277.4,49.7" fill="#28527c"/>
<polygon points="273.1,49.9 273.6,50.2 273.7,50.7 273.0,50.8 272.5,50.5 272.4,50.0" fill="#28527c"/>
<polygon points="278.1,49.2 278.1,48.5 279.2,48.5 279.9,48.9 279.8,49.5 278.8,49.6" fill="#28527c"/>
<polygon points="309.5,23.4 310.4,22.7 311.5,22.6 312.0,23.4 311.7,24.3 310.2,24.3" fill="#28527c"/>
<polygon points="310.2,23.1 310.8,23.8 309.9,24.2 309.0,24.3 308.3,23.7 309.3,23.4" fill="#28527c"/>
<polygon points="310.5,22.2 310.3,23.1 309.3,23.8 308.3,23.1 308.3,22.3 309.3,21.8" fill="#28527c"/>
<polygon points="310.4,23.0 310.0,22.0 310.8,21.3 311.8,21.6 312.4,22.2 311.8,22.8" fill="#28527c"/>
<polygon points="313.8,22.5 313.3,23.4 311.9,23.8 310.3,23.0 311.5,22.1 312.8,21.7" fill="#7f2704"/>
<polygon points="315.1,21.4 314.5,22.0 313.7,21.9 312.7,21.6 313.2,20.9 314.3,20.8" fill="#28527c"/>
<polygon points="273.4,69.8 272.5,70.0 271.9,69.4 272.5,68.9 273.3,68.9 274.1,69.3" fill="#28527c"/>
<polygon points="270.7,65.6 271.9,65.2 273.4,65.9 272.3,66.8 270.8,67.3 270.5,66.2" fill="#7f2704"/>
<polygon points="269.8,68.5 270.8,68.3 271.5,69.1 270.7,69.6 269.5,69.8 269.0,69.0" fill="#28527c"/>
<polygon points="273.5,67.8 272.7,68.3 272.3,67.6 272.5,67.1 273.2,66.9 274.0,67.2" fill="#28527c"/>
<polygon points="273.1,67.9 272.5,68.9 271.3,68.2 270.7,67.2 272.1,66.8 273.1,67.2" fill="#28527c"/>
<polygon points="268.9,64.1 270.1,63.6 271.3,64.1 270.9,64.9 270.1,66.0 268.7,65.2" fill="#7f2704"/>
<polygon points="246.8,80.3 245.3,80.3 245.4,79.2 246.8,79.0 248.2,79.2 248.1,80.3" fill="#7f2704"/>
<polygon points="240.7,80.5 242.2,79.7 243.5,79.5 244.7,80.4 243.5,81.1 242.2,81.2" fill="#7f2704"/>
<polygon points="246.3,80.6 245.2,80.4 245.3,79.6 246.2,78.6 247.2,79.5 247.6,80.4" fill="#28527c"/>
<polygon points="241.1,80.4 241.0,79.9 241.6,79.3 242.4,79.8 242.4,80.4 241.8,80.7" fill="#28527c"/>
<polygon points="242.4,78.6 242.9,78.7 243.5,78.9 242.9,79.2 242.4,79.3 241.9,79.0" fill="#28527c"/>
<polygon points="242.1,79.1 243.0,79.6 242.9,80.7 241.3,80.6 239.8,80.0 241.0,79.2" fill="#7f2704"/>
<polygon points="292.2,35.6 292.1,35.1 293.0,35.1 293.9,35.3 293.5,35.9 292.6,36.0" fill="#28527c"/>
<polygon points="290.4,35.6 290.8,36.1 290.2,36.5 289.5,36.3 289.0,35.8 289.8,35.4" fill="#28527c"/>
<polygon points="291.1,36.0 291.0,35.6 291.4,35.0 292.2,35.4 292.6,36.0 291.7,36.2" fill="#28527c"/>
<polygon points="291.0,35.4 290.3,35.1 290.6,34.5 291.5,34.4 292.5,34.7 291.9,35.4" fill="#28527c"/>
<polygon points="291.9,36.3 291.6,37.3 290.9,37.9 290.0,37.5 289.1,36.8 290.3,36.1" fill="#7f2704"/>
<polygon points="298.1,30.0 299.5,29.8 299.5,30.8 298.9,31.6 297.8,31.1 297.5,30.5" fill="#28527c"/>
<polygon points="301.5,32.1 300.9,32.6 299.9,32.4 299.6,31.7 300.3,31.1 301.2,31.5" fill="#28527c"/>
<polygon points="298.7,31.1 299.2,31.6 298.5,31.9 297.8,32.0 297.3,31.5 297.9,31.1" fill="#28527c"/>
<polygon points="296.8,32.9 295.3,32.7 295.9,31.6 297.2,31.7 298.1,32.1 297.7,32.8" fill="#7f2704"/>
<polygon points="300.2,29.1 301.7,29.2 301.4,30.3 300.2,31.1 298.5,30.5 299.1,29.4" fill="#7f2704"/>
<polygon points="231.4,81.6 232.4,81.7 232.7,82.3 232.1,82.7 231.4,82.5 230.8,82.1" fill="#28527c"/>
<polygon points="230.1,82.2 230.5,82.3 230.5,82.6 230.0,82.6 229.6,82.5 229.5,82.2" fill="#28527c"/>
<polygon points="227.7,87.4 227.2,87.2 226.9,86.9 227.3,86.6 227.8,86.8 228.0,87.1" fill="#28527c"/>
<polygon points="223.2,90.9 223.5,91.2 223.0,91.3 222.4,91.3 222.4,90.9 222.8,90.6" fill="#28527c"/>
<polygon points="221.5,91.4 221.8,91.8 221.9,92.1 221.4,92.3 221.0,92.1 221.1,91.8" fill="#28527c"/>
<polygon points="220.9,92.9 220.4,93.1 220.0,92.8 220.1,92.5 220.5,92.4 220.8,92.6" fill="#28527c"/>
<polygon points="216.9,99.5 216.3,99.6 215.9,99.3 215.9,98.9 216.4,98.9 217.2,99.0" fill="#28527c"/>
<polygon points="94.4,169.2 94.0,169.0 94.0,168.7 94.4,168.3 95.2,168.5 94.9,169.1" fill="#28527c"/>
<polygon points="94.2,170.3 93.1,170.3 92.6,169.6 93.3,169.2 94.1,169.2 94.8,169.6" fill="#28527c"/>
<polygon points="94.1,170.8 94.2,171.1 94.2,171.4 93.6,171.4 93.2,171.1 93.5,170.7" fill="#28527c"/>
<polygon points="91.2,173.3 91.5,173.0 91.8,173.2 91.9,173.5 91.5,173.8 91.2,173.5" fill="#28527c"/>
<polygon points="91.4,173.8 91.0,174.4 90.0,174.4 89.8,173.8 90.2,173.4 90.9,173.3" fill="#28527c"/>
<polygon points="88.8,173.6 89.6,173.5 89.6,174.0 89.5,174.3 88.9,174.3 88.6,174.0" fill="#28527c"/>
<polygon points="88.1,175.0 88.3,174.6 88.9,174.5 89.5,174.8 89.3,175.2 88.6,175.3" fill="#28527c"/>
<polygon points="84.6,174.6 85.1,174.5 85.6,174.6 85.5,175.0 85.2,175.1 84.6,175.1" fill="#28527c"/>
<polygon points="85.0,175.1 84.5,175.2 83.9,175.1 84.0,174.7 84.5,174.4 85.0,174.7" fill="#28527c"/>
<polygon points="84.2,176.8 84.5,176.2 85.3,176.6 85.3,177.0 84.9,177.5 84.2,177.2" fill="#28527c"/>
<polygon points="83.9,178.0 83.3,178.2 83.0,177.8 82.9,177.4 83.5,177.4 84.0,177.6" fill="#28527c"/>
<polygon points="80.6,177.3 80.3,177.5 80.0,177.6 79.8,177.4 80.0,177.2 80.4,177.0" fill="#28527c"/>
<polygon points="81.2,180.0 80.8,180.4 80.3,180.1 79.8,179.7 80.5,179.5 81.2,179.6" fill="#28527c"/>
<polygon points="78.7,177.5 79.1,178.0 78.5,178.4 77.9,178.1 77.4,177.7 78.0,177.4" fill="#28527c"/>
<polygon points="77.1,179.1 76.9,178.8 77.3,178.6 77.6,178.8 77.8,179.0 77.5,179.1" fill="#28527c"/>
<polygon points="77.8,181.4 78.5,181.4 79.0,181.8 78.7,182.5 77.6,182.3 77.5,181.8" fill="#28527c"/>
<polygon points="76.0,179.8 76.3,179.6 76.6,179.7 76.6,180.0 76.5,180.3 76.0,180.1" fill="#28527c"/>
<polygon points="74.4,180.4 74.2,180.3 74.3,180.0 74.7,180.1 74.7,180.3 74.6,180.4" fill="#28527c"/>
<polygon points="74.9,183.0 75.2,183.2 74.9,183.5 74.6,183.3 74.4,183.2 74.6,183.0" fill="#28527c"/>
<polygon points="73.4,185.1 73.7,184.7 74.1,184.7 74.3,184.9 74.4,185.3 73.9,185.3" fill="#28527c"/>
<polygon points="71.0,183.2 70.6,183.2 70.5,183.0 70.5,182.8 70.8,182.8 71.1,183.0" fill="#28527c"/>
<polygon points="69.2,183.8 69.5,183.6 69.9,183.7 69.9,184.0 69.6,184.2 69.3,184.0" fill="#28527c"/>
<polygon points="69.0,184.5 70.0,184.4 70.4,185.1 69.7,185.6 68.8,185.6 68.5,185.0" fill="#28527c"/>
<polygon points="70.4,188.3 70.2,187.9 70.4,187.6 70.9,187.6 71.1,187.8 71.0,188.1" fill="#28527c"/>
<polygon points="67.8,185.9 68.0,185.6 68.5,185.5 68.7,185.7 68.8,186.0 68.3,186.1" fill="#28527c"/>
<polygon points="67.4,186.2 67.2,186.5 66.9,186.7 66.5,186.6 66.3,186.2 67.0,186.1" fill="#28527c"/>
<polygon points="66.0,187.3 66.3,187.1 66.6,187.1 66.7,187.3 66.7,187.4 66.4,187.5" fill="#28527c"/>
<polygon points="66.8,189.3 67.3,189.2 67.5,189.5 67.6,189.8 67.1,190.0 66.8,189.7" fill="#28527c"/>
<polygon points="64.7,188.9 64.2,189.0 63.7,188.8 64.0,188.4 64.6,188.2 64.8,188.6" fill="#28527c"/>
<polygon points="63.9,189.8 64.4,189.9 64.7,190.2 64.3,190.3 63.8,190.5 63.7,190.1" fill="#28527c"/>
<polygon points="65.0,191.8 64.4,192.2 63.7,192.2 63.8,191.8 63.9,191.4 64.6,191.4" fill="#28527c"/>
<polygon points="63.8,192.1 64.3,192.1 64.1,192.4 63.8,192.5 63.4,192.4 63.5,192.1" fill="#28527c"/>
<polygon points="61.9,193.3 61.1,192.9 61.2,192.3 62.0,192.2 62.8,192.4 62.8,193.0" fill="#28527c"/>
<polygon points="61.2,192.7 60.5,193.0 59.8,192.6 60.1,191.9 61.1,191.9 62.0,192.2" fill="#28527c"/>
<polygon points="60.3,194.2 60.0,194.4 59.8,194.2 60.0,194.0 60.3,193.9 60.4,194.1" fill="#28527c"/>
<polygon points="58.6,192.8 57.8,193.1 57.6,192.5 57.7,191.7 58.8,191.9 59.3,192.4" fill="#28527c"/>
<polygon points="57.8,193.9 58.1,194.3 57.6,194.3 57.1,194.3 57.1,193.9 57.5,193.6" fill="#28527c"/>
<polygon points="57.9,194.3 57.5,194.8 56.8,195.0 56.3,194.7 56.3,194.2 57.1,194.1" fill="#28527c"/>
<polygon points="55.6,194.2 55.5,194.5 55.0,194.4 54.6,194.2 54.9,193.8 55.4,193.9" fill="#28527c"/>
<polygon points="54.4,196.0 54.8,195.7 55.3,195.6 55.6,195.9 55.3,196.2 54.8,196.3" fill="#28527c"/>
<polygon points="53.3,196.7 53.9,197.2 53.3,197.8 52.5,197.4 52.4,197.0 52.7,196.7" fill="#28527c"/>
<polygon points="52.3,199.9 51.7,200.3 51.3,199.8 51.2,199.4 51.9,199.0 52.6,199.4" fill="#28527c"/>
<polygon points="114.8,171.1 114.2,171.4 113.5,171.3 113.5,170.9 113.9,170.6 114.8,170.4" fill="#28527c"/>
<polygon points="110.6,171.4 110.0,171.4 109.4,171.2 109.8,170.8 110.4,170.6 110.8,171.0" fill="#28527c"/>
<polygon points="108.4,170.2 107.6,169.7 108.4,169.0 109.5,169.2 109.6,169.8 109.2,170.2" fill="#28527c"/>
<polygon points="106.6,169.7 106.7,169.2 107.2,169.1 107.9,169.1 107.9,169.6 107.2,169.9" fill="#28527c"/>
<polygon points="243.6,470.2 243.5,469.8 243.9,469.4 244.5,469.8 244.6,470.2 244.1,470.4" fill="#28527c"/>
<polygon points="213.1,464.0 212.8,464.5 212.0,464.3 211.5,463.9 212.0,463.5 212.6,463.6" fill="#28527c"/>
<polygon points="215.9,468.9 216.2,469.3 215.5,469.4 214.9,469.3 214.9,468.8 215.5,468.6" fill="#28527c"/>
<polygon points="260.3,466.6 260.6,466.8 260.6,467.0 260.4,467.2 260.1,467.0 260.1,466.8" fill="#28527c"/>
<polygon points="246.6,466.2 246.9,465.9 247.4,466.1 247.6,466.4 247.3,466.6 246.9,466.5" fill="#28527c"/>
<polygon points="239.9,467.4 240.0,467.7 239.5,467.9 239.2,467.7 239.2,467.5 239.5,467.4" fill="#28527c"/>
<polygon points="258.0,466.3 258.2,466.5 258.2,466.9 257.6,466.9 257.2,466.6 257.4,466.2" fill="#28527c"/>
<polygon points="256.5,462.5 256.1,463.0 255.2,462.8 255.4,462.3 255.7,462.1 256.2,462.2" fill="#28527c"/>
<polygon points="209.6,467.8 209.6,467.5 210.1,467.2 210.6,467.6 210.3,467.9 209.8,468.1" fill="#28527c"/>
<polygon points="250.7,467.8 250.1,467.8 249.6,467.5 250.0,467.2 250.5,467.1 250.9,467.4" fill="#28527c"/>
<polygon points="226.5,465.9 226.2,466.2 225.7,466.0 225.7,465.7 226.0,465.5 226.7,465.5" fill="#28527c"/>
<polygon points="209.6,463.1 209.8,463.4 209.6,463.8 208.9,463.7 208.8,463.3 209.2,463.1" fill="#28527c"/>
<polygon points="229.3,467.6 229.2,467.3 229.6,467.2 230.0,467.3 230.1,467.6 229.7,467.9" fill="#28527c"/>
<polygon points="215.0,467.5 215.7,467.5 215.7,468.0 215.2,468.2 214.5,468.3 214.5,467.8" fill="#28527c"/>
<polygon points="235.2,472.1 234.7,472.4 234.1,472.4 233.7,471.9 234.3,471.7 234.9,471.7" fill="#28527c"/>
<polygon points="255.1,461.7 255.3,461.3 255.9,461.3 256.2,461.7 255.9,462.0 255.5,461.9" fill="#28527c"/>
<polygon points="243.8,468.5 243.3,468.6 242.7,468.5 243.1,468.1 243.5,468.0 244.2,468.1" fill="#28527c"/>
<polygon points="236.6,465.1 236.9,465.2 237.0,465.4 236.9,465.6 236.6,465.6 236.4,465.4" fill="#28527c"/>
<polygon points="261.7,465.2 261.7,465.0 261.6,464.7 262.0,464.8 262.2,465.0 262.0,465.2" fill="#28527c"/>
<polygon points="218.1,470.6 218.7,470.3 219.1,470.6 219.3,470.9 218.9,471.4 218.1,471.1" fill="#28527c"/>
<polygon points="253.4,461.6 253.6,461.4 253.9,461.5 254.0,461.7 253.8,461.8 253.4,461.8" fill="#28527c"/>
<polygon points="215.2,465.7 215.5,465.4 216.2,465.5 216.2,466.0 215.7,466.3 215.1,466.1" fill="#28527c"/>
<polygon points="220.1,463.6 220.5,463.9 220.4,464.4 219.7,464.4 219.1,464.1 219.6,463.8" fill="#28527c"/>
<polygon points="229.9,466.5 229.2,466.6 228.7,466.6 228.7,466.3 229.0,465.8 229.6,466.1" fill="#28527c"/>
<polygon points="250.3,468.1 249.7,467.9 250.1,467.6 250.7,467.3 250.9,467.7 250.7,468.0" fill="#28527c"/>
<polygon points="210.1,462.9 210.1,463.4 209.4,463.4 208.7,463.3 209.0,462.7 209.6,462.8" fill="#28527c"/>
<polygon points="207.1,463.8 206.6,463.5 206.9,463.1 207.5,462.9 207.8,463.3 207.9,463.8" fill="#28527c"/>
<polygon points="223.3,464.6 222.4,464.7 222.2,464.2 222.6,463.9 223.1,463.8 223.6,464.1" fill="#28527c"/>
<polygon points="216.9,464.5 217.4,464.5 217.3,464.9 217.0,465.2 216.7,464.9 216.3,464.6" fill="#28527c"/>
<polygon points="261.2,462.0 261.6,461.6 262.3,461.6 262.5,462.1 262.1,462.6 261.5,462.3" fill="#28527c"/>
<polygon points="232.4,466.9 232.1,467.0 231.5,467.0 231.5,466.5 232.1,466.4 232.8,466.5" fill="#28527c"/>
<polygon points="206.4,467.2 206.4,467.7 205.7,467.7 205.5,467.3 205.5,467.0 206.1,466.9" fill="#28527c"/>
<polygon points="218.2,463.4 217.7,463.2 218.0,462.9 218.6,462.7 219.1,463.0 218.8,463.5" fill="#28527c"/>
<polygon points="230.5,465.6 230.6,465.4 230.9,465.5 231.1,465.7 230.9,465.8 230.6,465.8" fill="#28527c"/>
<polygon points="33.3,338.4 32.4,338.7 32.2,338.0 32.4,337.3 33.6,337.3 33.9,338.0" fill="#28527c"/>
<polygon points="35.3,341.3 34.6,341.3 34.0,341.2 34.0,340.7 34.6,340.7 35.2,340.8" fill="#28527c"/>
<polygon points="34.7,343.7 35.2,343.4 35.8,343.5 36.0,343.9 35.6,344.1 35.1,344.0" fill="#28527c"/>
<polygon points="37.7,345.9 38.1,346.5 37.3,346.6 36.5,346.8 36.5,346.2 36.9,345.7" fill="#28527c"/>
<polygon points="37.9,348.8 38.8,348.6 38.8,349.3 38.5,349.6 37.9,349.5 37.4,349.1" fill="#28527c"/>
<polygon points="39.2,352.5 39.0,351.9 38.9,351.4 39.7,351.4 40.4,351.6 40.2,352.3" fill="#28527c"/>
<polygon points="37.0,340.5 36.4,341.0 35.3,340.8 35.8,340.1 36.2,339.6 37.2,339.9" fill="#28527c"/>
<polygon points="36.9,344.2 36.6,343.5 37.0,342.7 37.9,343.2 38.9,343.5 38.0,344.1" fill="#28527c"/>
<polygon points="40.1,347.7 39.6,348.1 38.8,347.8 39.1,347.3 39.6,347.0 40.1,347.3" fill="#28527c"/>
<polygon points="40.1,316.2 39.7,316.2 39.3,315.9 39.8,315.5 40.4,315.7 40.5,316.1" fill="#28527c"/>
<polygon points="26.4,296.0 26.7,295.6 27.3,295.6 27.6,296.0 27.2,296.2 26.7,296.3" fill="#28527c"/>
<polygon points="29.3,300.2 29.3,300.5 29.3,300.9 28.8,300.7 28.6,300.5 28.7,300.1" fill="#28527c"/>
<polygon points="32.7,301.6 33.2,301.8 33.6,302.0 33.3,302.4 32.6,302.4 32.4,302.0" fill="#28527c"/>
<polyline points="281.4,56.6 286.0,59.5 290.9,62.9" fill="none"/>
<polyline points="351.5,48.5 352.8,52.0 353.2,56.5" fill="none"/>
<polyline points="353.5,46.5 355.5,48.5" fill="none"/>
<polyline points="266.2,75.0 270.0,76.0 274.0,76.5" fill="none"/>
<polyline points="268.1,67.5 271.0,66.0 273.5,68.0 272.0,71.0" fill="none"/>
<polyline points="301.3,35.5 303.0,39.0" fill="none"/>
<polyline points="255.0,93.1 257.0,96.0" fill="none"/>
<polyline points="250.5,98.3 250.0,102.0" fill="none"/>
</g>
<g class="dots">
<circle cx="316.4" cy="32.8" r="3.1"/>
<circle cx="348.8" cy="58.8" r="3.1"/>
<circle cx="362.1" cy="65.0" r="3.1"/>
<circle cx="350.8" cy="92.5" r="3.1"/>
<circle cx="289.0" cy="95.0" r="3.1"/>
<circle cx="250.5" cy="98.3" r="3.1"/>
<circle cx="220.2" cy="112.7" r="3.1"/>
<circle cx="262.0" cy="114.4" r="3.1"/>
<circle cx="292.8" cy="117.6" r="3.1"/>
<circle cx="338.8" cy="118.2" r="3.1"/>
<circle cx="345.5" cy="131.2" r="3.1"/>
<circle cx="231.0" cy="135.0" r="3.1"/>
<circle cx="278.0" cy="134.5" r="3.1"/>
<circle cx="338.8" cy="147.5" r="3.1"/>
<circle cx="337.0" cy="159.2" r="3.1"/>
<circle cx="348.5" cy="157.5" r="3.1"/>
<circle cx="240.2" cy="202.2" r="3.1"/>
<circle cx="140.4" cy="163.4" r="3.1"/>
<circle cx="140.9" cy="166.2" r="3.1"/>
<circle cx="165.9" cy="182.8" r="3.1"/>
<circle cx="173.9" cy="198.4" r="3.1"/>
<circle cx="165.6" cy="230.4" r="3.1"/>
<circle cx="188.5" cy="230.4" r="3.1"/>
<circle cx="102.6" cy="173.2" r="3.1"/>
<circle cx="109.2" cy="173.8" r="3.1"/>
<circle cx="65.0" cy="193.0" r="3.1"/>
<circle cx="91.2" cy="193.0" r="3.1"/>
<circle cx="43.4" cy="199.0" r="3.1"/>
<circle cx="123.3" cy="215.8" r="3.1"/>
<circle cx="120.8" cy="226.9" r="3.1"/>
<circle cx="33.2" cy="263.5" r="3.1"/>
<circle cx="30.5" cy="286.2" r="3.1"/>
<circle cx="142.8" cy="290.5" r="3.1"/>
<circle cx="138.8" cy="301.0" r="3.1"/>
<circle cx="176.5" cy="301.0" r="3.1"/>
<circle cx="44.1" cy="325.2" r="3.1"/>
<circle cx="54.5" cy="339.0" r="3.1"/>
<circle cx="54.3" cy="347.8" r="3.1"/>
<circle cx="73.6" cy="343.0" r="3.1"/>
<circle cx="98.9" cy="338.8" r="3.1"/>
<circle cx="101.4" cy="339.0" r="3.1"/>
<circle cx="124.6" cy="332.8" r="3.1"/>
<circle cx="61.0" cy="359.0" r="3.1"/>
<circle cx="79.1" cy="364.8" r="3.1"/>
<circle cx="314.9" cy="290.8" r="3.1"/>
<circle cx="221.2" cy="326.5" r="3.1"/>
<circle cx="224.0" cy="345.0" r="3.1"/>
<circle cx="200.5" cy="350.7" r="3.1"/>
<circle cx="193.9" cy="368.2" r="3.1"/>
<circle cx="203.8" cy="391.2" r="3.1"/>
<circle cx="326.5" cy="360.5" r="3.1"/>
<circle cx="210.4" cy="422.6" r="3.1"/>
<circle cx="63.5" cy="381.5" r="3.1"/>
<circle cx="98.8" cy="380.8" r="3.1"/>
<circle cx="84.3" cy="388.8" r="3.1"/>
<circle cx="69.8" cy="397.0" r="3.1"/>
<circle cx="116.2" cy="392.7" r="3.1"/>
<circle cx="131.8" cy="394.6" r="3.1"/>
<circle cx="114.5" cy="400.5" r="3.1"/>
<circle cx="126.2" cy="399.2" r="3.1"/>
<circle cx="143.0" cy="404.8" r="3.1"/>
<circle cx="134.1" cy="407.2" r="3.1"/>
<circle cx="99.0" cy="410.8" r="3.1"/>
<circle cx="111.2" cy="410.7" r="3.1"/>
<circle cx="121.8" cy="410.2" r="3.1"/>
<circle cx="131.0" cy="416.0" r="3.1"/>
<circle cx="114.8" cy="418.8" r="3.1"/>
<circle cx="136.8" cy="419.8" r="3.1"/>
<circle cx="125.0" cy="425.3" r="3.1"/>
<circle cx="134.0" cy="429.0" r="3.1"/>
<circle cx="131.4" cy="432.2" r="3.1"/>
<circle cx="146.9" cy="428.1" r="3.1"/>
<circle cx="138.0" cy="442.5" r="3.1"/>
<circle cx="109.9" cy="439.1" r="3.1"/>
<circle cx="113.6" cy="446.8" r="3.1"/>
<circle cx="122.4" cy="446.8" r="3.1"/>
<circle cx="82.0" cy="442.1" r="3.1"/>
<circle cx="77.4" cy="446.6" r="3.1"/>
<circle cx="76.1" cy="448.2" r="3.1"/>
<circle cx="87.6" cy="448.1" r="3.1"/>
<circle cx="64.6" cy="453.5" r="3.1"/>
<circle cx="70.1" cy="454.2" r="3.1"/>
<circle cx="64.0" cy="461.0" r="3.1"/>
<circle cx="83.6" cy="456.6" r="3.1"/>
<circle cx="85.5" cy="458.5" r="3.1"/>
<circle cx="87.8" cy="461.6" r="3.1"/>
<circle cx="92.8" cy="458.2" r="3.1"/>
<circle cx="87.5" cy="467.3" r="3.1"/>
<circle cx="118.2" cy="455.3" r="3.1"/>
<circle cx="109.5" cy="458.4" r="3.1"/>
<circle cx="128.0" cy="460.5" r="3.1"/>
<circle cx="120.1" cy="462.8" r="3.1"/>
<circle cx="107.6" cy="470.0" r="3.1"/>
<circle cx="117.8" cy="468.5" r="3.1"/>
<circle cx="147.9" cy="460.8" r="3.1"/>
<circle cx="100.2" cy="483.4" r="3.1"/>
<circle cx="113.9" cy="483.0" r="3.1"/>
<circle cx="125.5" cy="484.2" r="3.1"/>
<circle cx="157.9" cy="470.6" r="3.1"/>
<circle cx="172.5" cy="453.1" r="3.1"/>
<circle cx="174.4" cy="460.8" r="3.1"/>
<circle cx="212.7" cy="458.9" r="3.1"/>
<circle cx="644.1" cy="100.6" r="2.9"/>
<circle cx="614.0" cy="114.4" r="2.9"/>
<circle cx="755.1" cy="66.9" r="2.9"/>
<circle cx="686.5" cy="119.2" r="2.9"/>
<circle cx="732.0" cy="120.0" r="2.9"/>
<circle cx="535.2" cy="167.2" r="2.9"/>
<circle cx="496.8" cy="174.5" r="2.9"/>
<circle cx="503.8" cy="175.0" r="2.9"/>
<circle cx="460.0" cy="194.2" r="2.9"/>
<circle cx="438.2" cy="200.5" r="2.9"/>
<circle cx="518.0" cy="216.5" r="2.9"/>
<circle cx="515.4" cy="227.4" r="2.9"/>
<circle cx="560.2" cy="231.2" r="2.9"/>
<circle cx="428.2" cy="264.5" r="2.9"/>
<circle cx="533.0" cy="301.2" r="2.9"/>
<circle cx="570.5" cy="301.2" r="2.9"/>
<circle cx="708.5" cy="291.5" r="2.9"/>
<circle cx="449.0" cy="348.8" r="2.9"/>
<circle cx="479.0" cy="388.8" r="2.9"/>
<circle cx="493.2" cy="410.5" r="2.9"/>
<circle cx="528.2" cy="407.0" r="2.9"/>
<circle cx="617.8" cy="345.2" r="2.9"/>
<circle cx="594.5" cy="350.8" r="2.9"/>
<circle cx="597.8" cy="391.2" r="2.9"/>
<circle cx="600.9" cy="401.2" r="2.9"/>
<circle cx="604.4" cy="422.5" r="2.9"/>
<circle cx="504.5" cy="438.8" r="2.9"/>
<circle cx="471.2" cy="447.0" r="2.9"/>
<circle cx="464.5" cy="454.0" r="2.9"/>
<circle cx="512.8" cy="454.5" r="2.9"/>
<circle cx="508.2" cy="482.0" r="2.9"/>
<circle cx="520.0" cy="483.2" r="2.9"/>
<circle cx="606.8" cy="458.2" r="2.9"/>
</g>
<g>
<text x="306.8" y="108.8" text-anchor="middle" fill="#ffffff" stroke="#ffffff">Kimberley</text>
<text x="242.2" y="187.5" text-anchor="middle" fill="#ffffff" stroke="#ffffff">West Pilbara</text>
<text x="99.4" y="207.7" text-anchor="middle" fill="#ffffff" stroke="#ffffff">East Pilbara</text>
<text x="76.8" y="267.0" text-anchor="middle" fill="#1c1c1c" stroke="#1c1c1c">Gascoyne</text>
<text x="156.8" y="288.8" text-anchor="start" fill="#ffffff" stroke="#ffffff">Mid West</text>
<text x="276.4" y="353.2" text-anchor="middle" fill="#1c1c1c" stroke="#1c1c1c">Goldfields</text>
<text x="123.8" y="397.2" text-anchor="middle" fill="#1c1c1c" stroke="#1c1c1c">Wheat Belt - North</text>
<text x="128.7" y="440.5" text-anchor="middle" fill="#1c1c1c" stroke="#1c1c1c">Wheat Belt - South</text>
<text x="71.5" y="434.4" text-anchor="end" fill="#1c1c1c" stroke="#1c1c1c">Bunbury</text>
<text x="60.1" y="455.4" text-anchor="end" fill="#1c1c1c" stroke="#1c1c1c">Augusta-MR-</text>
<text x="53.0" y="467.6" text-anchor="end" fill="#1c1c1c" stroke="#1c1c1c">Busselton</text>
<text x="77.0" y="486.2" text-anchor="end" fill="#1c1c1c" stroke="#1c1c1c">Manjimup</text>
<text x="126.0" y="471.1" text-anchor="middle" fill="#ffffff" stroke="#ffffff">Albany</text>
<text x="213.3" y="448.6" text-anchor="middle" fill="#ffffff" stroke="#ffffff">Esperance</text>
<text x="703.8" y="106.2" text-anchor="middle" fill="#ffffff" stroke="#ffffff">Kimberley</text>
<text x="639.4" y="190.0" text-anchor="middle" fill="#1c1c1c" stroke="#1c1c1c">West Pilbara</text>
<text x="495.5" y="205.8" text-anchor="middle" fill="#1c1c1c" stroke="#1c1c1c">East Pilbara</text>
<text x="473.0" y="264.5" text-anchor="middle" fill="#1c1c1c" stroke="#1c1c1c">Gascoyne</text>
<text x="591.5" y="287.5" text-anchor="end" fill="#1c1c1c" stroke="#1c1c1c">Mid West</text>
<text x="673.8" y="352.5" text-anchor="middle" fill="#1c1c1c" stroke="#1c1c1c">Goldfields</text>
<text x="520.2" y="397.8" text-anchor="middle" fill="#1c1c1c" stroke="#1c1c1c">Wheat Belt - North</text>
<text x="525.4" y="439.5" text-anchor="middle" fill="#1c1c1c" stroke="#1c1c1c">Wheat Belt - South</text>
<text x="467.5" y="433.6" text-anchor="end" fill="#1c1c1c" stroke="#1c1c1c">Bunbury</text>
<text x="455.7" y="454.4" text-anchor="end" fill="#1c1c1c" stroke="#1c1c1c">Augusta-MR-</text>
<text x="448.9" y="467.2" text-anchor="end" fill="#1c1c1c" stroke="#1c1c1c">Busselton</text>
<text x="473.8" y="484.6" text-anchor="end" fill="#1c1c1c" stroke="#1c1c1c">Manjimup</text>
<text x="522.2" y="471.2" text-anchor="middle" fill="#ffffff" stroke="#ffffff">Albany</text>
<text x="588.8" y="448.2" text-anchor="start" fill="#1c1c1c" stroke="#1c1c1c">Esperance</text>
</g>
<text x="17" y="23.3" font-size="9.18" fill="#1c1c1c" stroke="#1c1c1c">Optometry FTE per 100,000 of population</text>
<rect x="18.75" y="30.00" width="13" height="7.5" fill="#ffffff" stroke="#a6b9c9" stroke-width="0.7"/>
<text x="40.2" y="35.7" text-anchor="middle" fill="#1c1c1c" stroke="#1c1c1c">0</text>
<rect x="18.75" y="42.14" width="13" height="7.5" fill="#f7fbff" stroke="#a6b9c9" stroke-width="0.7"/>
<text x="40.2" y="47.8" text-anchor="middle" fill="#1c1c1c" stroke="#1c1c1c">2</text>
<rect x="18.75" y="54.28" width="13" height="7.5" fill="#deebf7" stroke="#a6b9c9" stroke-width="0.7"/>
<text x="40.2" y="60.0" text-anchor="middle" fill="#1c1c1c" stroke="#1c1c1c">4</text>
<rect x="18.75" y="66.42" width="13" height="7.5" fill="#c6dbef" stroke="#a6b9c9" stroke-width="0.7"/>
<text x="40.2" y="72.1" text-anchor="middle" fill="#1c1c1c" stroke="#1c1c1c">6</text>
<rect x="18.75" y="78.56" width="13" height="7.5" fill="#9ecae1" stroke="#a6b9c9" stroke-width="0.7"/>
<text x="40.2" y="84.3" text-anchor="middle" fill="#1c1c1c" stroke="#1c1c1c">8</text>
<rect x="18.75" y="90.70" width="13" height="7.5" fill="#6baed6" stroke="#a6b9c9" stroke-width="0.7"/>
<text x="40.2" y="96.4" text-anchor="middle" fill="#1c1c1c" stroke="#1c1c1c">10</text>
<rect x="18.75" y="102.84" width="13" height="7.5" fill="#4292c6" stroke="#a6b9c9" stroke-width="0.7"/>
<text x="40.2" y="108.5" text-anchor="middle" fill="#1c1c1c" stroke="#1c1c1c">12</text>
<rect x="18.75" y="114.98" width="13" height="7.5" fill="#2171b5" stroke="#a6b9c9" stroke-width="0.7"/>
<text x="40.2" y="120.7" text-anchor="middle" fill="#1c1c1c" stroke="#1c1c1c">14</text>
<rect x="18.75" y="127.12" width="13" height="7.5" fill="#08519c" stroke="#a6b9c9" stroke-width="0.7"/>
<text x="40.2" y="132.8" text-anchor="middle" fill="#1c1c1c" stroke="#1c1c1c">16</text>
<rect x="18.75" y="139.26" width="13" height="7.5" fill="#08306b" stroke="#a6b9c9" stroke-width="0.7"/>
<text x="40.2" y="145.0" text-anchor="middle" fill="#1c1c1c" stroke="#1c1c1c">18</text>
<text x="415.2" y="21.0" font-size="9.22" fill="#1c1c1c" stroke="#1c1c1c">Ophthalmology FTE per 100,000 of population</text>
<rect x="417.75" y="28.70" width="13" height="7.5" fill="#ffffff" stroke="#a6b9c9" stroke-width="0.7"/>
<text x="434.1" y="34.4" text-anchor="start" fill="#1c1c1c" stroke="#1c1c1c">0</text>
<rect x="417.75" y="40.78" width="13" height="7.5" fill="#fdd0a2" stroke="#a6b9c9" stroke-width="0.7"/>
<text x="434.1" y="46.5" text-anchor="start" fill="#1c1c1c" stroke="#1c1c1c">1</text>
<rect x="417.75" y="52.86" width="13" height="7.5" fill="#fd8d3c" stroke="#a6b9c9" stroke-width="0.7"/>
<text x="434.1" y="58.6" text-anchor="start" fill="#1c1c1c" stroke="#1c1c1c">2</text>
<rect x="417.75" y="64.94" width="13" height="7.5" fill="#d94801" stroke="#a6b9c9" stroke-width="0.7"/>
<text x="434.1" y="70.6" text-anchor="start" fill="#1c1c1c" stroke="#1c1c1c">3</text>
<rect x="417.75" y="77.02" width="13" height="7.5" fill="#7f2704" stroke="#a6b9c9" stroke-width="0.7"/>
<text x="434.1" y="82.7" text-anchor="start" fill="#1c1c1c" stroke="#1c1c1c">4</text>
</svg>
</body></html>
